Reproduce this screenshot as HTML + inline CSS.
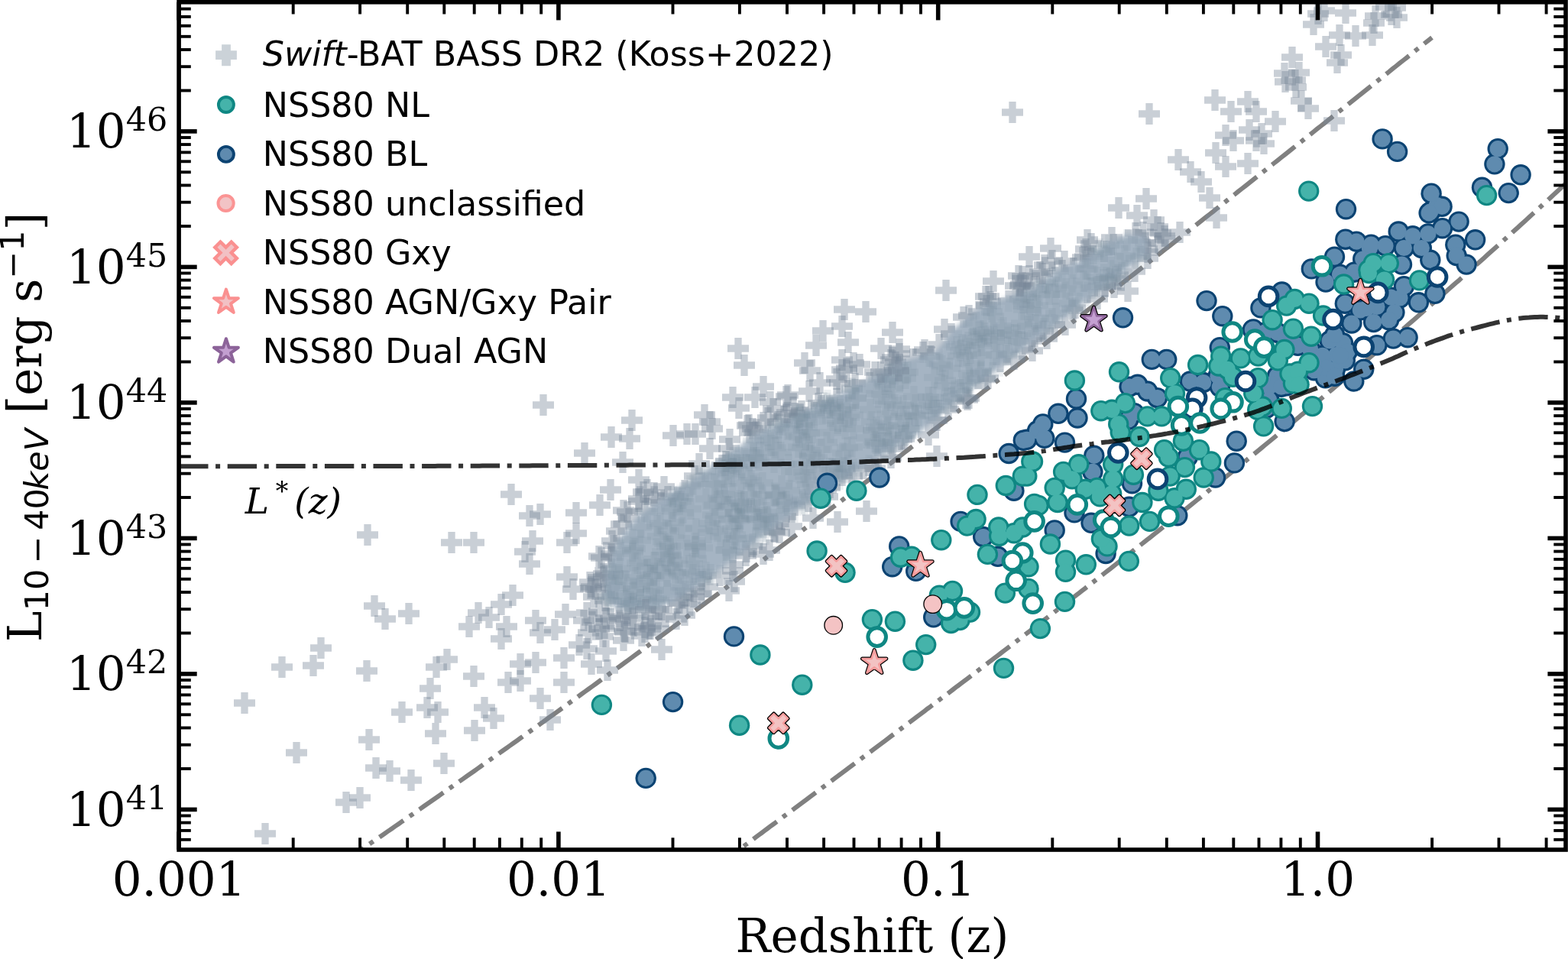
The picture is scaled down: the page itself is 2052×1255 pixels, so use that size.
<!DOCTYPE html>
<html><head><meta charset="utf-8"><style>
html,body{margin:0;padding:0;background:#fff;overflow:hidden}
svg{display:block}
</style></head><body>
<svg width="2052" height="1255" viewBox="0 0 2052 1255">
<rect width="2052" height="1255" fill="#fff"/>
<clipPath id="ax"><rect x="234.1" y="2.8" width="1814.9" height="1109.2"/></clipPath>
<defs><path id="P" d="M-4.67,-14v9.33h-9.33v9.33h9.33v9.33h9.33v-9.33h9.33v-9.33h-9.33v-9.33z" fill="#778899" fill-opacity="0.4"/><path id="Q" d="M-4.67,-14v9.33h-9.33v9.33h9.33v9.33h9.33v-9.33h9.33v-9.33h-9.33v-9.33z" fill="#778899" fill-opacity="0.13"/></defs>
<g clip-path="url(#ax)">
<path d="M470.0,1113.8 L474.7,1110.5 L479.4,1107.3 L484.1,1104.1 L488.8,1100.9 L493.5,1097.6 L498.2,1094.4 L502.9,1091.2 L507.6,1087.9 L512.3,1084.7 L517.0,1081.4 L521.7,1078.2 L526.3,1074.9 L531.0,1071.7 L535.7,1068.4 L540.4,1065.2 L545.1,1061.9 L549.8,1058.6 L554.5,1055.3 L559.2,1052.1 L563.9,1048.8 L568.6,1045.5 L573.3,1042.2 L578.0,1038.9 L582.7,1035.6 L587.4,1032.3 L592.1,1029.0 L596.8,1025.7 L601.5,1022.4 L606.2,1019.1 L610.9,1015.8 L615.6,1012.5 L620.3,1009.2 L625.0,1005.9 L629.7,1002.5 L634.3,999.2 L639.0,995.9 L643.7,992.6 L648.4,989.2 L653.1,985.9 L657.8,982.5 L662.5,979.2 L667.2,975.9 L671.9,972.5 L676.6,969.2 L681.3,965.8 L686.0,962.4 L690.7,959.1 L695.4,955.7 L700.1,952.3 L704.8,949.0 L709.5,945.6 L714.2,942.2 L718.9,938.8 L723.6,935.5 L728.3,932.1 L733.0,928.7 L737.7,925.3 L742.3,921.9 L747.0,918.5 L751.7,915.1 L756.4,911.7 L761.1,908.3 L765.8,904.9 L770.5,901.5 L775.2,898.1 L779.9,894.7 L784.6,891.3 L789.3,887.8 L794.0,884.4 L798.7,881.0 L803.4,877.6 L808.1,874.1 L812.8,870.7 L817.5,867.3 L822.2,863.8 L826.9,860.4 L831.6,856.9 L836.3,853.5 L841.0,850.0 L845.7,846.6 L850.3,843.1 L855.0,839.7 L859.7,836.2 L864.4,832.8 L869.1,829.3 L873.8,825.8 L878.5,822.4 L883.2,818.9 L887.9,815.4 L892.6,811.9 L897.3,808.5 L902.0,805.0 L906.7,801.5 L911.4,798.0 L916.1,794.5 L920.8,791.0 L925.5,787.5 L930.2,784.0 L934.9,780.6 L939.6,777.1 L944.3,773.5 L949.0,770.0 L953.7,766.5 L958.3,763.0 L963.0,759.5 L967.7,756.0 L972.4,752.5 L977.1,749.0 L981.8,745.5 L986.5,741.9 L991.2,738.4 L995.9,734.9 L1000.6,731.4 L1005.3,727.8 L1010.0,724.3 L1014.7,720.8 L1019.4,717.2 L1024.1,713.7 L1028.8,710.1 L1033.5,706.6 L1038.2,703.0 L1042.9,699.5 L1047.6,695.9 L1052.3,692.4 L1057.0,688.8 L1061.7,685.3 L1066.3,681.7 L1071.0,678.2 L1075.7,674.6 L1080.4,671.0 L1085.1,667.5 L1089.8,663.9 L1094.5,660.3 L1099.2,656.8 L1103.9,653.2 L1108.6,649.6 L1113.3,646.0 L1118.0,642.5 L1122.7,638.9 L1127.4,635.3 L1132.1,631.7 L1136.8,628.1 L1141.5,624.5 L1146.2,620.9 L1150.9,617.3 L1155.6,613.8 L1160.3,610.2 L1165.0,606.6 L1169.7,603.0 L1174.3,599.4 L1179.0,595.8 L1183.7,592.1 L1188.4,588.5 L1193.1,584.9 L1197.8,581.3 L1202.5,577.7 L1207.2,574.1 L1211.9,570.5 L1216.6,566.9 L1221.3,563.2 L1226.0,559.6 L1230.7,556.0 L1235.4,552.4 L1240.1,548.8 L1244.8,545.1 L1249.5,541.5 L1254.2,537.9 L1258.9,534.2 L1263.6,530.6 L1268.3,527.0 L1273.0,523.3 L1277.7,519.7 L1282.3,516.1 L1287.0,512.4 L1291.7,508.8 L1296.4,505.1 L1301.1,501.5 L1305.8,497.8 L1310.5,494.2 L1315.2,490.5 L1319.9,486.9 L1324.6,483.2 L1329.3,479.6 L1334.0,475.9 L1338.7,472.3 L1343.4,468.6 L1348.1,465.0 L1352.8,461.3 L1357.5,457.6 L1362.2,454.0 L1366.9,450.3 L1371.6,446.6 L1376.3,443.0 L1381.0,439.3 L1385.7,435.6 L1390.3,432.0 L1395.0,428.3 L1399.7,424.6 L1404.4,420.9 L1409.1,417.3 L1413.8,413.6 L1418.5,409.9 L1423.2,406.2 L1427.9,402.5 L1432.6,398.9 L1437.3,395.2 L1442.0,391.5 L1446.7,387.8 L1451.4,384.1 L1456.1,380.4 L1460.8,376.7 L1465.5,373.1 L1470.2,369.4 L1474.9,365.7 L1479.6,362.0 L1484.3,358.3 L1489.0,354.6 L1493.7,350.9 L1498.3,347.2 L1503.0,343.5 L1507.7,339.8 L1512.4,336.1 L1517.1,332.4 L1521.8,328.7 L1526.5,325.0 L1531.2,321.3 L1535.9,317.6 L1540.6,313.9 L1545.3,310.2 L1550.0,306.5 L1554.7,302.7 L1559.4,299.0 L1564.1,295.3 L1568.8,291.6 L1573.5,287.9 L1578.2,284.2 L1582.9,280.5 L1587.6,276.8 L1592.3,273.0 L1597.0,269.3 L1601.7,265.6 L1606.3,261.9 L1611.0,258.2 L1615.7,254.5 L1620.4,250.7 L1625.1,247.0 L1629.8,243.3 L1634.5,239.6 L1639.2,235.8 L1643.9,232.1 L1648.6,228.4 L1653.3,224.7 L1658.0,220.9 L1662.7,217.2 L1667.4,213.5 L1672.1,209.8 L1676.8,206.0 L1681.5,202.3 L1686.2,198.6 L1690.9,194.9 L1695.6,191.1 L1700.3,187.4 L1705.0,183.7 L1709.7,179.9 L1714.3,176.2 L1719.0,172.5 L1723.7,168.7 L1728.4,165.0 L1733.1,161.3 L1737.8,157.5 L1742.5,153.8 L1747.2,150.1 L1751.9,146.3 L1756.6,142.6 L1761.3,138.8 L1766.0,135.1 L1770.7,131.4 L1775.4,127.6 L1780.1,123.9 L1784.8,120.2 L1789.5,116.4 L1794.2,112.7 L1798.9,108.9 L1803.6,105.2 L1808.3,101.5 L1813.0,97.7 L1817.7,94.0 L1822.3,90.2 L1827.0,86.5 L1831.7,82.7 L1836.4,79.0 L1841.1,75.3 L1845.8,71.5 L1850.5,67.8 L1855.2,64.0 L1859.9,60.3 L1864.6,56.5 L1869.3,52.8 L1874.0,49.1" fill="none" stroke="#808080" stroke-width="6" stroke-dasharray="38.4 9.6 6 9.6" stroke-dashoffset="31.42"/>
<path d="M960.0,1117.3 L963.7,1114.6 L967.4,1111.9 L971.0,1109.1 L974.7,1106.4 L978.4,1103.7 L982.1,1100.9 L985.8,1098.2 L989.4,1095.4 L993.1,1092.7 L996.8,1090.0 L1000.5,1087.2 L1004.1,1084.5 L1007.8,1081.7 L1011.5,1079.0 L1015.2,1076.3 L1018.9,1073.5 L1022.5,1070.8 L1026.2,1068.0 L1029.9,1065.3 L1033.6,1062.5 L1037.3,1059.8 L1040.9,1057.1 L1044.6,1054.3 L1048.3,1051.6 L1052.0,1048.8 L1055.7,1046.1 L1059.3,1043.3 L1063.0,1040.6 L1066.7,1037.9 L1070.4,1035.1 L1074.0,1032.4 L1077.7,1029.6 L1081.4,1026.9 L1085.1,1024.1 L1088.8,1021.4 L1092.4,1018.6 L1096.1,1015.9 L1099.8,1013.1 L1103.5,1010.4 L1107.2,1007.6 L1110.8,1004.9 L1114.5,1002.1 L1118.2,999.4 L1121.9,996.6 L1125.6,993.9 L1129.2,991.1 L1132.9,988.4 L1136.6,985.6 L1140.3,982.8 L1143.9,980.1 L1147.6,977.3 L1151.3,974.6 L1155.0,971.8 L1158.7,969.1 L1162.3,966.3 L1166.0,963.5 L1169.7,960.8 L1173.4,958.0 L1177.1,955.2 L1180.7,952.5 L1184.4,949.7 L1188.1,946.9 L1191.8,944.2 L1195.5,941.4 L1199.1,938.6 L1202.8,935.9 L1206.5,933.1 L1210.2,930.3 L1213.8,927.5 L1217.5,924.8 L1221.2,922.0 L1224.9,919.2 L1228.6,916.4 L1232.2,913.7 L1235.9,910.9 L1239.6,908.1 L1243.3,905.3 L1247.0,902.5 L1250.6,899.7 L1254.3,897.0 L1258.0,894.2 L1261.7,891.4 L1265.4,888.6 L1269.0,885.8 L1272.7,883.0 L1276.4,880.2 L1280.1,877.4 L1283.7,874.6 L1287.4,871.8 L1291.1,869.0 L1294.8,866.2 L1298.5,863.4 L1302.1,860.6 L1305.8,857.8 L1309.5,855.0 L1313.2,852.2 L1316.9,849.4 L1320.5,846.6 L1324.2,843.8 L1327.9,840.9 L1331.6,838.1 L1335.3,835.3 L1338.9,832.5 L1342.6,829.7 L1346.3,826.9 L1350.0,824.0 L1353.6,821.2 L1357.3,818.4 L1361.0,815.6 L1364.7,812.7 L1368.4,809.9 L1372.0,807.1 L1375.7,804.2 L1379.4,801.4 L1383.1,798.5 L1386.8,795.7 L1390.4,792.9 L1394.1,790.0 L1397.8,787.2 L1401.5,784.3 L1405.2,781.5 L1408.8,778.6 L1412.5,775.8 L1416.2,772.9 L1419.9,770.1 L1423.5,767.2 L1427.2,764.3 L1430.9,761.5 L1434.6,758.6 L1438.3,755.7 L1441.9,752.9 L1445.6,750.0 L1449.3,747.1 L1453.0,744.3 L1456.7,741.4 L1460.3,738.5 L1464.0,735.6 L1467.7,732.7 L1471.4,729.9 L1475.1,727.0 L1478.7,724.1 L1482.4,721.2 L1486.1,718.3 L1489.8,715.4 L1493.4,712.5 L1497.1,709.6 L1500.8,706.7 L1504.5,703.8 L1508.2,700.9 L1511.8,698.0 L1515.5,695.1 L1519.2,692.1 L1522.9,689.2 L1526.6,686.3 L1530.2,683.4 L1533.9,680.5 L1537.6,677.5 L1541.3,674.6 L1544.9,671.7 L1548.6,668.7 L1552.3,665.8 L1556.0,662.9 L1559.7,659.9 L1563.3,657.0 L1567.0,654.0 L1570.7,651.1 L1574.4,648.1 L1578.1,645.2 L1581.7,642.2 L1585.4,639.3 L1589.1,636.3 L1592.8,633.4 L1596.5,630.4 L1600.1,627.4 L1603.8,624.4 L1607.5,621.5 L1611.2,618.5 L1614.8,615.5 L1618.5,612.5 L1622.2,609.5 L1625.9,606.6 L1629.6,603.6 L1633.2,600.6 L1636.9,597.6 L1640.6,594.6 L1644.3,591.6 L1648.0,588.6 L1651.6,585.6 L1655.3,582.5 L1659.0,579.5 L1662.7,576.5 L1666.4,573.5 L1670.0,570.5 L1673.7,567.4 L1677.4,564.4 L1681.1,561.4 L1684.7,558.3 L1688.4,555.3 L1692.1,552.3 L1695.8,549.2 L1699.5,546.2 L1703.1,543.1 L1706.8,540.1 L1710.5,537.0 L1714.2,534.0 L1717.9,530.9 L1721.5,527.8 L1725.2,524.8 L1728.9,521.7 L1732.6,518.6 L1736.3,515.5 L1739.9,512.4 L1743.6,509.4 L1747.3,506.3 L1751.0,503.2 L1754.6,500.1 L1758.3,497.0 L1762.0,493.9 L1765.7,490.8 L1769.4,487.7 L1773.0,484.6 L1776.7,481.4 L1780.4,478.3 L1784.1,475.2 L1787.8,472.1 L1791.4,468.9 L1795.1,465.8 L1798.8,462.7 L1802.5,459.5 L1806.2,456.4 L1809.8,453.2 L1813.5,450.1 L1817.2,446.9 L1820.9,443.8 L1824.5,440.6 L1828.2,437.4 L1831.9,434.3 L1835.6,431.1 L1839.3,427.9 L1842.9,424.7 L1846.6,421.6 L1850.3,418.4 L1854.0,415.2 L1857.7,412.0 L1861.3,408.8 L1865.0,405.6 L1868.7,402.4 L1872.4,399.2 L1876.1,396.0 L1879.7,392.7 L1883.4,389.5 L1887.1,386.3 L1890.8,383.1 L1894.4,379.8 L1898.1,376.6 L1901.8,373.3 L1905.5,370.1 L1909.2,366.9 L1912.8,363.6 L1916.5,360.3 L1920.2,357.1 L1923.9,353.8 L1927.6,350.5 L1931.2,347.3 L1934.9,344.0 L1938.6,340.7 L1942.3,337.4 L1946.0,334.1 L1949.6,330.8 L1953.3,327.5 L1957.0,324.2 L1960.7,320.9 L1964.3,317.6 L1968.0,314.3 L1971.7,311.0 L1975.4,307.7 L1979.1,304.3 L1982.7,301.0 L1986.4,297.7 L1990.1,294.3 L1993.8,291.0 L1997.5,287.6 L2001.1,284.3 L2004.8,280.9 L2008.5,277.6 L2012.2,274.2 L2015.9,270.8 L2019.5,267.4 L2023.2,264.1 L2026.9,260.7 L2030.6,257.3 L2034.2,253.9 L2037.9,250.5 L2041.6,247.1 L2045.3,243.7 L2049.0,240.3 L2052.6,236.9 L2056.3,233.4 L2060.0,230.0" fill="none" stroke="#808080" stroke-width="6" stroke-dasharray="38.4 9.6 6 9.6" stroke-dashoffset="31.43"/>
<g><use href="#P" x="1083" y="650"/>
<use href="#P" x="1036" y="689"/>
<use href="#P" x="1168" y="468"/>
<use href="#P" x="1264" y="521"/>
<use href="#P" x="810" y="807"/>
<use href="#P" x="980" y="556"/>
<use href="#P" x="871" y="807"/>
<use href="#P" x="1038" y="533"/>
<use href="#P" x="829" y="819"/>
<use href="#P" x="1236" y="431"/>
<use href="#P" x="852" y="819"/>
<use href="#P" x="807" y="695"/>
<use href="#P" x="1436" y="391"/>
<use href="#P" x="1020" y="697"/>
<use href="#P" x="793" y="753"/>
<use href="#P" x="847" y="641"/>
<use href="#P" x="978" y="557"/>
<use href="#P" x="887" y="789"/>
<use href="#P" x="1502" y="338"/>
<use href="#P" x="784" y="728"/>
<use href="#P" x="1012" y="535"/>
<use href="#P" x="799" y="810"/>
<use href="#P" x="1026" y="545"/>
<use href="#P" x="851" y="823"/>
<use href="#P" x="774" y="768"/>
<use href="#P" x="1340" y="374"/>
<use href="#P" x="1291" y="400"/>
<use href="#P" x="885" y="810"/>
<use href="#P" x="1377" y="341"/>
<use href="#P" x="896" y="805"/>
<use href="#P" x="842" y="644"/>
<use href="#P" x="1519" y="305"/>
<use href="#P" x="1486" y="305"/>
<use href="#P" x="1102" y="484"/>
<use href="#P" x="1515" y="297"/>
<use href="#P" x="1336" y="372"/>
<use href="#P" x="1393" y="342"/>
<use href="#P" x="1166" y="599"/>
<use href="#P" x="908" y="774"/>
<use href="#P" x="992" y="566"/>
<use href="#P" x="772" y="762"/>
<use href="#P" x="1064" y="678"/>
<use href="#P" x="816" y="668"/>
<use href="#P" x="1446" y="375"/>
<use href="#P" x="1117" y="475"/>
<use href="#P" x="961" y="761"/>
<use href="#P" x="1294" y="388"/>
<use href="#P" x="836" y="656"/>
<use href="#P" x="1463" y="365"/>
<use href="#P" x="1525" y="313"/>
<use href="#P" x="999" y="553"/>
<use href="#P" x="1095" y="496"/>
<use href="#P" x="821" y="670"/>
<use href="#P" x="836" y="653"/>
<use href="#P" x="1099" y="501"/>
<use href="#P" x="1031" y="517"/>
<use href="#P" x="816" y="838"/>
<use href="#P" x="1125" y="477"/>
<use href="#P" x="1005" y="547"/>
<use href="#P" x="783" y="756"/>
<use href="#P" x="862" y="823"/>
<use href="#P" x="1296" y="395"/>
<use href="#P" x="1329" y="374"/>
<use href="#P" x="1367" y="347"/>
<use href="#P" x="1347" y="361"/>
<use href="#P" x="800" y="725"/>
<use href="#P" x="1049" y="538"/>
<use href="#P" x="844" y="821"/>
<use href="#P" x="1370" y="443"/>
<use href="#P" x="1338" y="362"/>
<use href="#P" x="784" y="800"/>
<use href="#P" x="1130" y="613"/>
<use href="#P" x="1029" y="519"/>
<use href="#P" x="1496" y="304"/>
<use href="#P" x="811" y="812"/>
<use href="#P" x="1333" y="361"/>
<use href="#P" x="790" y="751"/>
<use href="#P" x="908" y="781"/>
<use href="#P" x="853" y="806"/>
<use href="#P" x="903" y="792"/>
<use href="#P" x="1516" y="318"/>
<use href="#P" x="1210" y="458"/>
<use href="#P" x="773" y="770"/>
<use href="#P" x="1420" y="336"/>
<use href="#P" x="1177" y="457"/>
<use href="#P" x="1166" y="471"/>
<use href="#P" x="1226" y="550"/>
<use href="#P" x="959" y="739"/>
<use href="#P" x="1293" y="495"/>
<use href="#P" x="1501" y="326"/>
<use href="#P" x="1007" y="720"/>
<use href="#P" x="818" y="827"/>
<use href="#P" x="869" y="637"/>
<use href="#P" x="777" y="781"/>
<use href="#P" x="1351" y="459"/>
<use href="#P" x="1145" y="487"/>
<use href="#P" x="892" y="782"/>
<use href="#P" x="1421" y="326"/>
<use href="#P" x="1524" y="309"/>
<use href="#P" x="801" y="708"/>
<use href="#P" x="1177" y="463"/>
<use href="#P" x="1290" y="388"/>
<use href="#P" x="791" y="822"/>
<use href="#P" x="1013" y="695"/>
<use href="#P" x="1145" y="613"/>
<use href="#P" x="918" y="777"/>
<use href="#P" x="1153" y="456"/>
<use href="#P" x="999" y="725"/>
<use href="#P" x="844" y="827"/>
<use href="#P" x="840" y="832"/></g>
<g><use href="#P" x="800" y="769"/>
<use href="#P" x="790" y="755"/>
<use href="#P" x="800" y="729"/>
<use href="#P" x="803" y="714"/>
<use href="#P" x="813" y="686"/>
<use href="#P" x="823" y="679"/>
<use href="#P" x="844" y="669"/>
<use href="#P" x="857" y="656"/>
<use href="#P" x="865" y="658"/>
<use href="#P" x="874" y="650"/>
<use href="#P" x="896" y="642"/>
<use href="#P" x="909" y="623"/>
<use href="#P" x="915" y="607"/>
<use href="#P" x="945" y="609"/>
<use href="#P" x="950" y="604"/>
<use href="#P" x="954" y="587"/>
<use href="#P" x="981" y="566"/>
<use href="#P" x="985" y="561"/>
<use href="#P" x="1018" y="552"/>
<use href="#P" x="1040" y="541"/>
<use href="#P" x="1054" y="546"/>
<use href="#P" x="1075" y="531"/>
<use href="#P" x="1071" y="528"/>
<use href="#P" x="1095" y="522"/>
<use href="#P" x="1119" y="510"/>
<use href="#P" x="1119" y="502"/>
<use href="#P" x="1138" y="501"/>
<use href="#P" x="1161" y="494"/>
<use href="#P" x="1172" y="474"/>
<use href="#P" x="1171" y="481"/>
<use href="#P" x="1195" y="470"/>
<use href="#P" x="1208" y="461"/>
<use href="#P" x="1218" y="466"/>
<use href="#P" x="1229" y="451"/>
<use href="#P" x="1245" y="437"/>
<use href="#P" x="1261" y="415"/>
<use href="#P" x="1268" y="413"/>
<use href="#P" x="1281" y="408"/>
<use href="#P" x="1320" y="394"/>
<use href="#P" x="1335" y="392"/>
<use href="#P" x="1343" y="384"/>
<use href="#P" x="1353" y="375"/>
<use href="#P" x="1361" y="356"/>
<use href="#P" x="1390" y="354"/>
<use href="#P" x="1405" y="351"/>
<use href="#P" x="1417" y="337"/>
<use href="#P" x="1427" y="338"/>
<use href="#P" x="1428" y="319"/>
<use href="#P" x="1455" y="311"/>
<use href="#P" x="1457" y="320"/>
<use href="#P" x="1490" y="314"/>
<use href="#P" x="1499" y="318"/>
<use href="#P" x="1502" y="330"/>
<use href="#P" x="1485" y="355"/>
<use href="#P" x="1463" y="360"/>
<use href="#P" x="1458" y="376"/>
<use href="#P" x="1446" y="374"/>
<use href="#P" x="1423" y="383"/>
<use href="#P" x="1407" y="403"/>
<use href="#P" x="1404" y="406"/>
<use href="#P" x="1394" y="425"/>
<use href="#P" x="1380" y="425"/>
<use href="#P" x="1365" y="433"/>
<use href="#P" x="1354" y="440"/>
<use href="#P" x="1350" y="446"/>
<use href="#P" x="1338" y="457"/>
<use href="#P" x="1327" y="470"/>
<use href="#P" x="1309" y="473"/>
<use href="#P" x="1289" y="496"/>
<use href="#P" x="1280" y="495"/>
<use href="#P" x="1266" y="523"/>
<use href="#P" x="1268" y="521"/>
<use href="#P" x="1248" y="525"/>
<use href="#P" x="1241" y="536"/>
<use href="#P" x="1224" y="550"/>
<use href="#P" x="1215" y="569"/>
<use href="#P" x="1183" y="574"/>
<use href="#P" x="1180" y="575"/>
<use href="#P" x="1168" y="587"/>
<use href="#P" x="1149" y="601"/>
<use href="#P" x="1137" y="609"/>
<use href="#P" x="1115" y="623"/>
<use href="#P" x="1110" y="609"/>
<use href="#P" x="1102" y="622"/>
<use href="#P" x="1086" y="638"/>
<use href="#P" x="1081" y="641"/>
<use href="#P" x="1058" y="656"/>
<use href="#P" x="1040" y="661"/>
<use href="#P" x="1028" y="676"/>
<use href="#P" x="1020" y="679"/>
<use href="#P" x="1014" y="696"/>
<use href="#P" x="984" y="715"/>
<use href="#P" x="976" y="727"/>
<use href="#P" x="977" y="722"/>
<use href="#P" x="959" y="747"/>
<use href="#P" x="942" y="753"/>
<use href="#P" x="918" y="754"/>
<use href="#P" x="926" y="768"/>
<use href="#P" x="894" y="770"/>
<use href="#P" x="889" y="789"/>
<use href="#P" x="866" y="798"/>
<use href="#P" x="858" y="797"/>
<use href="#P" x="822" y="790"/>
<use href="#P" x="821" y="805"/>
<use href="#P" x="792" y="786"/></g>
<filter id="blur" x="-10%" y="-10%" width="120%" height="120%"><feGaussianBlur stdDeviation="3"/></filter>
<polygon points="790,780 796,740 810,705 835,675 870,650 905,628 945,600 990,568 1040,545 1085,522 1130,500 1183,472 1225,460 1248,430 1280,405 1300,396 1351,378 1379,356 1421,338 1449,318 1476,307 1500,310 1500,333 1450,371 1400,410 1350,448 1300,487 1250,525 1202,568 1160,592 1120,616 1082,640 1040,670 1000,700 960,732 920,762 880,788 840,800 805,795" fill="#9bacbc" fill-opacity="0.9" filter="url(#blur)"/>
<g><use href="#Q" x="1146" y="580"/>
<use href="#Q" x="1060" y="596"/>
<use href="#Q" x="837" y="767"/>
<use href="#Q" x="1436" y="363"/>
<use href="#Q" x="942" y="655"/>
<use href="#Q" x="1216" y="466"/>
<use href="#Q" x="1265" y="465"/>
<use href="#Q" x="935" y="633"/>
<use href="#Q" x="1054" y="575"/>
<use href="#Q" x="1385" y="355"/>
<use href="#Q" x="986" y="599"/>
<use href="#Q" x="1257" y="510"/>
<use href="#Q" x="1301" y="447"/>
<use href="#Q" x="918" y="623"/>
<use href="#Q" x="1161" y="542"/>
<use href="#Q" x="856" y="736"/>
<use href="#Q" x="1284" y="465"/>
<use href="#Q" x="828" y="724"/>
<use href="#Q" x="1009" y="686"/>
<use href="#Q" x="957" y="614"/>
<use href="#Q" x="1475" y="314"/>
<use href="#Q" x="1009" y="575"/>
<use href="#Q" x="1340" y="396"/>
<use href="#Q" x="1355" y="425"/>
<use href="#Q" x="1161" y="557"/>
<use href="#Q" x="1269" y="476"/>
<use href="#Q" x="986" y="593"/>
<use href="#Q" x="1216" y="528"/>
<use href="#Q" x="829" y="771"/>
<use href="#Q" x="1174" y="479"/>
<use href="#Q" x="1222" y="532"/>
<use href="#Q" x="881" y="650"/>
<use href="#Q" x="949" y="609"/>
<use href="#Q" x="1198" y="530"/>
<use href="#Q" x="910" y="716"/>
<use href="#Q" x="1345" y="427"/>
<use href="#Q" x="1168" y="496"/>
<use href="#Q" x="985" y="712"/>
<use href="#Q" x="910" y="715"/>
<use href="#Q" x="930" y="752"/>
<use href="#Q" x="1103" y="593"/>
<use href="#Q" x="907" y="634"/>
<use href="#Q" x="990" y="599"/>
<use href="#Q" x="1047" y="544"/>
<use href="#Q" x="1163" y="580"/>
<use href="#Q" x="886" y="657"/>
<use href="#Q" x="1223" y="494"/>
<use href="#Q" x="987" y="668"/>
<use href="#Q" x="812" y="720"/>
<use href="#Q" x="1268" y="489"/>
<use href="#Q" x="1046" y="542"/>
<use href="#Q" x="1087" y="534"/>
<use href="#Q" x="919" y="717"/>
<use href="#Q" x="1015" y="649"/>
<use href="#Q" x="1059" y="566"/>
<use href="#Q" x="936" y="679"/>
<use href="#Q" x="1445" y="329"/>
<use href="#Q" x="1062" y="593"/>
<use href="#Q" x="1267" y="448"/>
<use href="#Q" x="1468" y="357"/>
<use href="#Q" x="818" y="760"/>
<use href="#Q" x="1371" y="371"/>
<use href="#Q" x="1330" y="391"/>
<use href="#Q" x="924" y="758"/>
<use href="#Q" x="855" y="783"/>
<use href="#Q" x="1106" y="561"/>
<use href="#Q" x="864" y="747"/>
<use href="#Q" x="962" y="700"/>
<use href="#Q" x="1202" y="544"/>
<use href="#Q" x="1089" y="530"/>
<use href="#Q" x="861" y="744"/>
<use href="#Q" x="831" y="756"/>
<use href="#Q" x="1186" y="545"/>
<use href="#Q" x="1023" y="636"/>
<use href="#Q" x="1189" y="561"/>
<use href="#Q" x="1029" y="656"/>
<use href="#Q" x="1412" y="397"/>
<use href="#Q" x="1022" y="658"/>
<use href="#Q" x="1024" y="556"/>
<use href="#Q" x="1429" y="377"/>
<use href="#Q" x="1044" y="547"/>
<use href="#Q" x="856" y="753"/>
<use href="#Q" x="1300" y="414"/>
<use href="#Q" x="1002" y="699"/>
<use href="#Q" x="1381" y="385"/>
<use href="#Q" x="1454" y="350"/>
<use href="#Q" x="1014" y="648"/>
<use href="#Q" x="1162" y="499"/>
<use href="#Q" x="827" y="790"/>
<use href="#Q" x="796" y="785"/>
<use href="#Q" x="1269" y="498"/>
<use href="#Q" x="1466" y="345"/>
<use href="#Q" x="1439" y="326"/>
<use href="#Q" x="991" y="667"/>
<use href="#Q" x="1154" y="580"/>
<use href="#Q" x="959" y="692"/>
<use href="#Q" x="957" y="606"/>
<use href="#Q" x="1043" y="554"/>
<use href="#Q" x="1117" y="561"/>
<use href="#Q" x="962" y="671"/>
<use href="#Q" x="1100" y="541"/>
<use href="#Q" x="1134" y="573"/>
<use href="#Q" x="1040" y="670"/>
<use href="#Q" x="1421" y="352"/>
<use href="#Q" x="1249" y="512"/>
<use href="#Q" x="1444" y="366"/>
<use href="#Q" x="1460" y="362"/>
<use href="#Q" x="983" y="647"/>
<use href="#Q" x="1056" y="559"/>
<use href="#Q" x="967" y="599"/>
<use href="#Q" x="860" y="688"/>
<use href="#Q" x="969" y="679"/>
<use href="#Q" x="1051" y="607"/>
<use href="#Q" x="1148" y="583"/>
<use href="#Q" x="846" y="761"/>
<use href="#Q" x="906" y="738"/>
<use href="#Q" x="805" y="766"/>
<use href="#Q" x="859" y="784"/>
<use href="#Q" x="970" y="665"/>
<use href="#Q" x="1052" y="618"/>
<use href="#Q" x="983" y="629"/>
<use href="#Q" x="1493" y="336"/>
<use href="#Q" x="1237" y="498"/>
<use href="#Q" x="1030" y="661"/>
<use href="#Q" x="1431" y="332"/>
<use href="#Q" x="1453" y="364"/>
<use href="#Q" x="1403" y="373"/>
<use href="#Q" x="1221" y="520"/>
<use href="#Q" x="1019" y="560"/>
<use href="#Q" x="1171" y="530"/>
<use href="#Q" x="1448" y="363"/>
<use href="#Q" x="1289" y="436"/>
<use href="#Q" x="1254" y="466"/>
<use href="#Q" x="846" y="783"/>
<use href="#Q" x="868" y="709"/>
<use href="#Q" x="1066" y="543"/>
<use href="#Q" x="1100" y="536"/>
<use href="#Q" x="1096" y="554"/>
<use href="#Q" x="1154" y="516"/>
<use href="#Q" x="967" y="678"/>
<use href="#Q" x="1143" y="563"/>
<use href="#Q" x="1078" y="527"/>
<use href="#Q" x="1400" y="397"/>
<use href="#Q" x="1109" y="586"/>
<use href="#Q" x="928" y="685"/>
<use href="#Q" x="1156" y="489"/>
<use href="#Q" x="800" y="787"/>
<use href="#Q" x="1150" y="496"/>
<use href="#Q" x="850" y="764"/>
<use href="#Q" x="1356" y="379"/>
<use href="#Q" x="821" y="794"/>
<use href="#Q" x="1274" y="424"/>
<use href="#Q" x="840" y="795"/>
<use href="#Q" x="1285" y="452"/>
<use href="#Q" x="891" y="656"/>
<use href="#Q" x="829" y="775"/>
<use href="#Q" x="1293" y="440"/>
<use href="#Q" x="1452" y="365"/>
<use href="#Q" x="970" y="632"/>
<use href="#Q" x="1033" y="642"/>
<use href="#Q" x="919" y="761"/>
<use href="#Q" x="834" y="737"/>
<use href="#Q" x="1176" y="557"/>
<use href="#Q" x="873" y="773"/>
<use href="#Q" x="1087" y="566"/>
<use href="#Q" x="953" y="620"/>
<use href="#Q" x="1320" y="463"/>
<use href="#Q" x="1445" y="329"/>
<use href="#Q" x="899" y="714"/>
<use href="#Q" x="891" y="768"/>
<use href="#Q" x="831" y="718"/>
<use href="#Q" x="1003" y="671"/>
<use href="#Q" x="1382" y="376"/>
<use href="#Q" x="1310" y="432"/>
<use href="#Q" x="847" y="741"/>
<use href="#Q" x="1168" y="509"/>
<use href="#Q" x="1257" y="459"/>
<use href="#Q" x="939" y="695"/>
<use href="#Q" x="1082" y="528"/>
<use href="#Q" x="1348" y="405"/>
<use href="#Q" x="933" y="674"/>
<use href="#Q" x="1158" y="503"/>
<use href="#Q" x="1287" y="433"/>
<use href="#Q" x="1022" y="592"/>
<use href="#Q" x="1159" y="529"/>
<use href="#Q" x="1333" y="447"/>
<use href="#Q" x="902" y="749"/>
<use href="#Q" x="1016" y="647"/>
<use href="#Q" x="1284" y="486"/>
<use href="#Q" x="1099" y="627"/>
<use href="#Q" x="924" y="749"/>
<use href="#Q" x="1317" y="465"/>
<use href="#Q" x="1115" y="509"/>
<use href="#Q" x="1395" y="378"/>
<use href="#Q" x="1451" y="321"/>
<use href="#Q" x="1053" y="555"/>
<use href="#Q" x="1239" y="528"/>
<use href="#Q" x="1437" y="375"/>
<use href="#Q" x="1281" y="435"/>
<use href="#Q" x="881" y="704"/>
<use href="#Q" x="828" y="721"/>
<use href="#Q" x="1313" y="429"/>
<use href="#Q" x="1069" y="599"/>
<use href="#Q" x="999" y="680"/>
<use href="#Q" x="975" y="666"/>
<use href="#Q" x="1196" y="519"/>
<use href="#Q" x="811" y="744"/>
<use href="#Q" x="959" y="723"/>
<use href="#Q" x="1116" y="543"/>
<use href="#Q" x="1099" y="617"/>
<use href="#Q" x="1069" y="615"/>
<use href="#Q" x="1120" y="521"/>
<use href="#Q" x="861" y="702"/>
<use href="#Q" x="1110" y="533"/>
<use href="#Q" x="888" y="750"/>
<use href="#Q" x="1215" y="520"/>
<use href="#Q" x="1368" y="369"/>
<use href="#Q" x="1178" y="498"/>
<use href="#Q" x="923" y="617"/>
<use href="#Q" x="993" y="602"/>
<use href="#Q" x="1182" y="531"/>
<use href="#Q" x="1115" y="508"/>
<use href="#Q" x="1009" y="583"/>
<use href="#Q" x="1004" y="676"/>
<use href="#Q" x="1075" y="588"/>
<use href="#Q" x="960" y="613"/>
<use href="#Q" x="970" y="659"/>
<use href="#Q" x="1059" y="567"/>
<use href="#Q" x="1086" y="613"/>
<use href="#Q" x="1359" y="416"/>
<use href="#Q" x="1259" y="451"/>
<use href="#Q" x="1487" y="338"/>
<use href="#Q" x="1055" y="628"/>
<use href="#Q" x="999" y="690"/>
<use href="#Q" x="943" y="702"/>
<use href="#Q" x="935" y="661"/>
<use href="#Q" x="948" y="633"/>
<use href="#Q" x="1139" y="536"/>
<use href="#Q" x="862" y="786"/>
<use href="#Q" x="1343" y="389"/>
<use href="#Q" x="1185" y="569"/>
<use href="#Q" x="989" y="704"/>
<use href="#Q" x="992" y="680"/>
<use href="#Q" x="1147" y="515"/>
<use href="#Q" x="879" y="665"/>
<use href="#Q" x="873" y="715"/>
<use href="#Q" x="816" y="786"/>
<use href="#Q" x="961" y="705"/>
<use href="#Q" x="1219" y="537"/>
<use href="#Q" x="893" y="652"/>
<use href="#Q" x="903" y="636"/>
<use href="#Q" x="881" y="684"/>
<use href="#Q" x="880" y="669"/>
<use href="#Q" x="855" y="772"/>
<use href="#Q" x="1098" y="604"/>
<use href="#Q" x="1103" y="551"/>
<use href="#Q" x="1145" y="578"/>
<use href="#Q" x="1005" y="678"/>
<use href="#Q" x="1050" y="654"/>
<use href="#Q" x="1190" y="561"/>
<use href="#Q" x="838" y="743"/>
<use href="#Q" x="1053" y="659"/>
<use href="#Q" x="1284" y="441"/>
<use href="#Q" x="1090" y="550"/>
<use href="#Q" x="1245" y="521"/>
<use href="#Q" x="1197" y="542"/>
<use href="#Q" x="1050" y="586"/>
<use href="#Q" x="802" y="751"/>
<use href="#Q" x="795" y="779"/>
<use href="#Q" x="851" y="753"/>
<use href="#Q" x="878" y="726"/>
<use href="#Q" x="1076" y="542"/>
<use href="#Q" x="873" y="754"/>
<use href="#Q" x="1252" y="454"/>
<use href="#Q" x="1188" y="487"/>
<use href="#Q" x="879" y="738"/>
<use href="#Q" x="1328" y="438"/>
<use href="#Q" x="1185" y="570"/>
<use href="#Q" x="966" y="658"/>
<use href="#Q" x="1083" y="524"/>
<use href="#Q" x="807" y="761"/>
<use href="#Q" x="875" y="727"/>
<use href="#Q" x="1095" y="628"/>
<use href="#Q" x="959" y="599"/>
<use href="#Q" x="937" y="634"/>
<use href="#Q" x="1163" y="559"/>
<use href="#Q" x="820" y="780"/>
<use href="#Q" x="1060" y="647"/>
<use href="#Q" x="980" y="624"/>
<use href="#Q" x="950" y="615"/>
<use href="#Q" x="1340" y="405"/>
<use href="#Q" x="1366" y="430"/>
<use href="#Q" x="894" y="671"/>
<use href="#Q" x="877" y="715"/>
<use href="#Q" x="950" y="604"/>
<use href="#Q" x="867" y="722"/>
<use href="#Q" x="1298" y="408"/>
<use href="#Q" x="975" y="600"/>
<use href="#Q" x="839" y="800"/>
<use href="#Q" x="1304" y="464"/>
<use href="#Q" x="1086" y="534"/>
<use href="#Q" x="904" y="666"/>
<use href="#Q" x="1166" y="524"/>
<use href="#Q" x="1236" y="505"/>
<use href="#Q" x="959" y="646"/>
<use href="#Q" x="1331" y="439"/>
<use href="#Q" x="810" y="752"/>
<use href="#Q" x="1185" y="488"/>
<use href="#Q" x="907" y="752"/>
<use href="#Q" x="967" y="681"/>
<use href="#Q" x="986" y="577"/>
<use href="#Q" x="1046" y="572"/>
<use href="#Q" x="997" y="648"/>
<use href="#Q" x="1283" y="488"/>
<use href="#Q" x="1472" y="335"/>
<use href="#Q" x="1114" y="619"/>
<use href="#Q" x="847" y="670"/>
<use href="#Q" x="1020" y="555"/>
<use href="#Q" x="1117" y="614"/>
<use href="#Q" x="1418" y="368"/>
<use href="#Q" x="1094" y="613"/>
<use href="#Q" x="1185" y="495"/>
<use href="#Q" x="1296" y="400"/>
<use href="#Q" x="1230" y="477"/>
<use href="#Q" x="886" y="733"/>
<use href="#Q" x="1120" y="521"/>
<use href="#Q" x="1270" y="462"/>
<use href="#Q" x="1403" y="404"/>
<use href="#Q" x="825" y="787"/>
<use href="#Q" x="1042" y="570"/>
<use href="#Q" x="1423" y="352"/>
<use href="#Q" x="1243" y="482"/>
<use href="#Q" x="1159" y="588"/>
<use href="#Q" x="974" y="657"/>
<use href="#Q" x="950" y="720"/>
<use href="#Q" x="857" y="736"/>
<use href="#Q" x="1382" y="410"/>
<use href="#Q" x="986" y="636"/>
<use href="#Q" x="897" y="774"/>
<use href="#Q" x="884" y="749"/>
<use href="#Q" x="1054" y="623"/>
<use href="#Q" x="1064" y="605"/>
<use href="#Q" x="1270" y="505"/>
<use href="#Q" x="990" y="679"/>
<use href="#Q" x="1179" y="545"/>
<use href="#Q" x="1082" y="579"/>
<use href="#Q" x="965" y="679"/>
<use href="#Q" x="1153" y="564"/>
<use href="#Q" x="839" y="690"/>
<use href="#Q" x="1309" y="445"/>
<use href="#Q" x="838" y="707"/>
<use href="#Q" x="1115" y="585"/>
<use href="#Q" x="1015" y="586"/>
<use href="#Q" x="1264" y="501"/>
<use href="#Q" x="911" y="692"/>
<use href="#Q" x="1233" y="479"/>
<use href="#Q" x="888" y="650"/>
<use href="#Q" x="948" y="647"/>
<use href="#Q" x="1036" y="617"/>
<use href="#Q" x="801" y="745"/>
<use href="#Q" x="911" y="731"/>
<use href="#Q" x="1273" y="443"/>
<use href="#Q" x="994" y="592"/>
<use href="#Q" x="1228" y="537"/>
<use href="#Q" x="990" y="656"/>
<use href="#Q" x="1198" y="544"/>
<use href="#Q" x="1057" y="634"/>
<use href="#Q" x="892" y="691"/>
<use href="#Q" x="1031" y="562"/>
<use href="#Q" x="878" y="728"/>
<use href="#Q" x="828" y="706"/>
<use href="#Q" x="924" y="653"/>
<use href="#Q" x="1301" y="436"/>
<use href="#Q" x="964" y="705"/>
<use href="#Q" x="909" y="711"/>
<use href="#Q" x="954" y="680"/>
<use href="#Q" x="1045" y="585"/>
<use href="#Q" x="1348" y="398"/>
<use href="#Q" x="864" y="685"/>
<use href="#Q" x="1337" y="423"/>
<use href="#Q" x="1099" y="531"/>
<use href="#Q" x="1299" y="488"/>
<use href="#Q" x="797" y="780"/>
<use href="#Q" x="1032" y="608"/>
<use href="#Q" x="1319" y="436"/>
<use href="#Q" x="1065" y="540"/>
<use href="#Q" x="1360" y="386"/>
<use href="#Q" x="998" y="632"/>
<use href="#Q" x="1111" y="546"/>
<use href="#Q" x="971" y="612"/>
<use href="#Q" x="964" y="608"/>
<use href="#Q" x="838" y="785"/>
<use href="#Q" x="1141" y="552"/>
<use href="#Q" x="927" y="697"/>
<use href="#Q" x="1013" y="605"/>
<use href="#Q" x="1373" y="385"/>
<use href="#Q" x="1105" y="612"/>
<use href="#Q" x="875" y="695"/>
<use href="#Q" x="951" y="720"/>
<use href="#Q" x="952" y="663"/>
<use href="#Q" x="1147" y="559"/>
<use href="#Q" x="1169" y="578"/>
<use href="#Q" x="1278" y="447"/>
<use href="#Q" x="954" y="663"/>
<use href="#Q" x="1089" y="614"/>
<use href="#Q" x="1046" y="546"/>
<use href="#Q" x="1258" y="515"/>
<use href="#Q" x="1004" y="570"/>
<use href="#Q" x="880" y="743"/>
<use href="#Q" x="1358" y="400"/>
<use href="#Q" x="1165" y="570"/>
<use href="#Q" x="1377" y="417"/>
<use href="#Q" x="940" y="652"/></g>
<g><use href="#P" x="1725" y="18"/>
<use href="#P" x="1719" y="32"/>
<use href="#P" x="1733" y="14"/>
<use href="#P" x="1761" y="17"/>
<use href="#P" x="1800" y="21"/>
<use href="#P" x="1821" y="19"/>
<use href="#P" x="1826" y="10"/>
<use href="#P" x="1814" y="9"/>
<use href="#P" x="1828" y="23"/>
<use href="#P" x="1798" y="30"/>
<use href="#P" x="1753" y="46"/>
<use href="#P" x="1774" y="47"/>
<use href="#P" x="1796" y="46"/>
<use href="#P" x="1735" y="61"/>
<use href="#P" x="1755" y="72"/>
<use href="#P" x="1750" y="82"/>
<use href="#P" x="1691" y="75"/>
<use href="#P" x="1681" y="96"/>
<use href="#P" x="1700" y="95"/>
<use href="#P" x="1695" y="105"/>
<use href="#P" x="1682" y="107"/>
<use href="#P" x="1696" y="114"/>
<use href="#P" x="1703" y="132"/>
<use href="#P" x="1712" y="142"/>
<use href="#P" x="1746" y="158"/>
<use href="#P" x="1590" y="131"/>
<use href="#P" x="1611" y="146"/>
<use href="#P" x="1633" y="133"/>
<use href="#P" x="1644" y="146"/>
<use href="#P" x="1669" y="159"/>
<use href="#P" x="1635" y="170"/>
<use href="#P" x="1651" y="175"/>
<use href="#P" x="1654" y="188"/>
<use href="#P" x="1644" y="184"/>
<use href="#P" x="1604" y="177"/>
<use href="#P" x="1614" y="184"/>
<use href="#P" x="1591" y="200"/>
<use href="#P" x="1633" y="214"/>
<use href="#P" x="1604" y="218"/>
<use href="#P" x="1504" y="149"/>
<use href="#P" x="1542" y="209"/>
<use href="#P" x="320" y="920"/>
<use href="#P" x="369" y="873"/>
<use href="#P" x="410" y="871"/>
<use href="#P" x="420" y="848"/>
<use href="#P" x="388" y="985"/>
<use href="#P" x="347" y="1091"/>
<use href="#P" x="481" y="700"/>
<use href="#P" x="480" y="878"/>
<use href="#P" x="490" y="793"/>
<use href="#P" x="504" y="810"/>
<use href="#P" x="535" y="803"/>
<use href="#P" x="483" y="968"/>
<use href="#P" x="492" y="1005"/>
<use href="#P" x="510" y="1009"/>
<use href="#P" x="538" y="1021"/>
<use href="#P" x="453" y="1050"/>
<use href="#P" x="471" y="1044"/>
<use href="#P" x="526" y="932"/>
<use href="#P" x="563" y="901"/>
<use href="#P" x="559" y="926"/>
<use href="#P" x="573" y="932"/>
<use href="#P" x="570" y="960"/>
<use href="#P" x="581" y="999"/>
<use href="#P" x="571" y="873"/>
<use href="#P" x="585" y="863"/>
<use href="#P" x="620" y="885"/>
<use href="#P" x="621" y="956"/>
<use href="#P" x="634" y="926"/>
<use href="#P" x="646" y="940"/>
<use href="#P" x="591" y="710"/>
<use href="#P" x="620" y="710"/>
<use href="#P" x="669" y="647"/>
<use href="#P" x="693" y="675"/>
<use href="#P" x="707" y="673"/>
<use href="#P" x="697" y="708"/>
<use href="#P" x="687" y="722"/>
<use href="#P" x="693" y="738"/>
<use href="#P" x="742" y="710"/>
<use href="#P" x="754" y="671"/>
<use href="#P" x="671" y="779"/>
<use href="#P" x="656" y="791"/>
<use href="#P" x="626" y="802"/>
<use href="#P" x="614" y="820"/>
<use href="#P" x="640" y="808"/>
<use href="#P" x="663" y="820"/>
<use href="#P" x="656" y="836"/>
<use href="#P" x="701" y="812"/>
<use href="#P" x="707" y="828"/>
<use href="#P" x="726" y="824"/>
<use href="#P" x="740" y="804"/>
<use href="#P" x="681" y="869"/>
<use href="#P" x="701" y="867"/>
<use href="#P" x="681" y="891"/>
<use href="#P" x="665" y="893"/>
<use href="#P" x="707" y="914"/>
<use href="#P" x="720" y="942"/>
<use href="#P" x="738" y="893"/>
<use href="#P" x="738" y="861"/>
<use href="#P" x="758" y="844"/>
<use href="#P" x="774" y="869"/>
<use href="#P" x="795" y="877"/>
<use href="#P" x="764" y="812"/>
<use href="#P" x="770" y="828"/>
<use href="#P" x="742" y="755"/>
<use href="#P" x="750" y="771"/>
<use href="#P" x="866" y="850"/>
<use href="#P" x="954" y="773"/>
<use href="#P" x="799" y="641"/>
<use href="#P" x="785" y="661"/>
<use href="#P" x="836" y="628"/>
<use href="#P" x="856" y="645"/>
<use href="#P" x="754" y="698"/>
<use href="#P" x="787" y="730"/>
<use href="#P" x="779" y="771"/>
<use href="#P" x="711" y="530"/>
<use href="#P" x="765" y="593"/>
<use href="#P" x="800" y="572"/>
<use href="#P" x="827" y="550"/>
<use href="#P" x="824" y="574"/>
<use href="#P" x="815" y="605"/>
<use href="#P" x="1105" y="405"/>
<use href="#P" x="1133" y="408"/>
<use href="#P" x="1102" y="427"/>
<use href="#P" x="1077" y="433"/>
<use href="#P" x="1068" y="452"/>
<use href="#P" x="1110" y="448"/>
<use href="#P" x="1168" y="435"/>
<use href="#P" x="966" y="456"/>
<use href="#P" x="974" y="478"/>
<use href="#P" x="1053" y="475"/>
<use href="#P" x="1060" y="485"/>
<use href="#P" x="1102" y="471"/>
<use href="#P" x="1073" y="501"/>
<use href="#P" x="1059" y="512"/>
<use href="#P" x="959" y="520"/>
<use href="#P" x="999" y="506"/>
<use href="#P" x="988" y="520"/>
<use href="#P" x="1008" y="526"/>
<use href="#P" x="967" y="534"/>
<use href="#P" x="1030" y="540"/>
<use href="#P" x="881" y="570"/>
<use href="#P" x="899" y="568"/>
<use href="#P" x="910" y="568"/>
<use href="#P" x="922" y="543"/>
<use href="#P" x="929" y="552"/>
<use href="#P" x="932" y="561"/>
<use href="#P" x="955" y="575"/>
<use href="#P" x="929" y="587"/>
<use href="#P" x="1108" y="482"/>
<use href="#P" x="1153" y="487"/>
<use href="#P" x="1176" y="485"/>
<use href="#P" x="1238" y="380"/>
<use href="#P" x="1347" y="336"/>
<use href="#P" x="1375" y="325"/>
<use href="#P" x="1500" y="260"/>
<use href="#P" x="1464" y="272"/>
<use href="#P" x="1488" y="282"/>
<use href="#P" x="1510" y="288"/>
<use href="#P" x="1423" y="314"/>
<use href="#P" x="1300" y="368"/>
<use href="#P" x="1476" y="381"/>
<use href="#P" x="1364" y="358"/>
<use href="#P" x="1335" y="374"/>
<use href="#P" x="1544" y="304"/>
<use href="#P" x="1592" y="285"/>
<use href="#P" x="1583" y="259"/>
<use href="#P" x="1572" y="238"/>
<use href="#P" x="1558" y="225"/>
<use href="#P" x="1325" y="147"/>
<use href="#P" x="1134" y="669"/>
<use href="#P" x="1096" y="683"/>
<use href="#P" x="1226" y="597"/>
<use href="#P" x="768" y="802"/>
<use href="#P" x="775" y="814"/>
<use href="#P" x="793" y="809"/>
<use href="#P" x="784" y="823"/>
<use href="#P" x="789" y="833"/>
<use href="#P" x="768" y="849"/>
<use href="#P" x="793" y="852"/>
<use href="#P" x="817" y="826"/>
<use href="#P" x="828" y="809"/>
<use href="#P" x="845" y="798"/></g>
<g fill="#0b4372"><circle cx="960.5" cy="832.9" r="13.7"/><circle cx="880.6" cy="918.6" r="13.7"/><circle cx="845.2" cy="1018.4" r="13.7"/><circle cx="1221.7" cy="807.8" r="13.7"/><circle cx="1082.5" cy="632.3" r="13.7"/><circle cx="1150.9" cy="625.0" r="13.7"/><circle cx="1176.7" cy="714.9" r="13.7"/><circle cx="1167.7" cy="741.7" r="13.7"/><circle cx="1198.7" cy="747.4" r="13.7"/><circle cx="1257.1" cy="682.4" r="13.7"/><circle cx="1286.7" cy="702.5" r="13.7"/><circle cx="1305.8" cy="728.3" r="13.7"/><circle cx="1320.2" cy="593.5" r="13.7"/><circle cx="1339.3" cy="576.3" r="13.7"/><circle cx="1357.5" cy="563.8" r="13.7"/><circle cx="1326.9" cy="642.2" r="13.7"/><circle cx="1447.1" cy="724.5" r="13.7"/><circle cx="1380.2" cy="693.9" r="13.7"/><circle cx="1428.0" cy="684.3" r="13.7"/><circle cx="1540.8" cy="674.7" r="13.7"/><circle cx="1477.7" cy="663.3" r="13.7"/><circle cx="1406.0" cy="670.9" r="13.7"/><circle cx="1431.8" cy="596.3" r="13.7"/><circle cx="1429.9" cy="617.4" r="13.7"/><circle cx="1481.5" cy="632.7" r="13.7"/><circle cx="1590.5" cy="625.0" r="13.7"/><circle cx="1615.4" cy="605.9" r="13.7"/><circle cx="1618.2" cy="577.2" r="13.7"/><circle cx="1554.2" cy="598.2" r="13.7"/><circle cx="1393.5" cy="579.1" r="13.7"/><circle cx="1366.8" cy="573.4" r="13.7"/><circle cx="1343.8" cy="575.3" r="13.7"/><circle cx="1681.1" cy="551.6" r="13.7"/><circle cx="1657.2" cy="534.4" r="13.7"/><circle cx="1469.5" cy="415.8" r="13.7"/><circle cx="1408.5" cy="521.9" r="13.7"/><circle cx="1384.9" cy="541.3" r="13.7"/><circle cx="1410.0" cy="547.0" r="13.7"/><circle cx="1364.8" cy="554.9" r="13.7"/><circle cx="1476.7" cy="549.2" r="13.7"/><circle cx="1478.1" cy="506.1" r="13.7"/><circle cx="1579.0" cy="393.6" r="13.7"/><circle cx="1599.8" cy="413.7" r="13.7"/><circle cx="1507.3" cy="470.4" r="13.7"/><circle cx="1526.7" cy="470.4" r="13.7"/><circle cx="1596.3" cy="454.6" r="13.7"/><circle cx="1639.3" cy="431.6" r="13.7"/><circle cx="1683.7" cy="504.8" r="13.7"/><circle cx="1660.8" cy="506.2" r="13.7"/><circle cx="1488.7" cy="503.3" r="13.7"/><circle cx="1501.6" cy="512.0" r="13.7"/><circle cx="1514.5" cy="520.6" r="13.7"/><circle cx="1557.5" cy="499.0" r="13.7"/><circle cx="1574.7" cy="500.5" r="13.7"/><circle cx="1596.3" cy="506.2" r="13.7"/><circle cx="1660.8" cy="523.4" r="13.7"/><circle cx="1484.4" cy="540.6" r="13.7"/><circle cx="1771.8" cy="499.0" r="13.7"/><circle cx="1784.7" cy="483.3" r="13.7"/><circle cx="1801.9" cy="451.7" r="13.7"/><circle cx="1823.4" cy="443.1" r="13.7"/><circle cx="1842.1" cy="441.7" r="13.7"/><circle cx="1734.5" cy="494.7" r="13.7"/><circle cx="1747.4" cy="483.3" r="13.7"/><circle cx="1760.3" cy="471.8" r="13.7"/><circle cx="1757.5" cy="448.8" r="13.7"/><circle cx="1740.2" cy="446.0" r="13.7"/><circle cx="1748.8" cy="464.6" r="13.7"/><circle cx="1731.6" cy="473.2" r="13.7"/><circle cx="1763.2" cy="460.3" r="13.7"/><circle cx="1768.9" cy="423.0" r="13.7"/><circle cx="1797.6" cy="421.6" r="13.7"/><circle cx="1780.4" cy="405.8" r="13.7"/><circle cx="1760.3" cy="397.2" r="13.7"/><circle cx="1824.9" cy="408.7" r="13.7"/><circle cx="1856.4" cy="395.8" r="13.7"/><circle cx="1877.9" cy="384.3" r="13.7"/><circle cx="1832.0" cy="390.0" r="13.7"/><circle cx="1801.9" cy="401.5" r="13.7"/><circle cx="1817.7" cy="418.7" r="13.7"/><circle cx="1761.5" cy="273.7" r="13.7"/><circle cx="1677.6" cy="382.0" r="13.7"/><circle cx="1716.3" cy="351.9" r="13.7"/><circle cx="1746.5" cy="336.1" r="13.7"/><circle cx="1760.8" cy="313.2" r="13.7"/><circle cx="1775.1" cy="316.1" r="13.7"/><circle cx="1792.4" cy="324.7" r="13.7"/><circle cx="1735.0" cy="369.1" r="13.7"/><circle cx="1753.6" cy="359.1" r="13.7"/><circle cx="1772.3" cy="356.2" r="13.7"/><circle cx="1783.7" cy="339.0" r="13.7"/><circle cx="1830.2" cy="303.0" r="13.7"/><circle cx="1848.8" cy="308.8" r="13.7"/><circle cx="1868.9" cy="305.9" r="13.7"/><circle cx="1887.6" cy="298.7" r="13.7"/><circle cx="1909.1" cy="290.1" r="13.7"/><circle cx="1871.8" cy="277.2" r="13.7"/><circle cx="1880.4" cy="268.6" r="13.7"/><circle cx="1930.6" cy="313.8" r="13.7"/><circle cx="1904.8" cy="320.2" r="13.7"/><circle cx="1906.2" cy="334.6" r="13.7"/><circle cx="1919.1" cy="346.1" r="13.7"/><circle cx="1837.4" cy="324.5" r="13.7"/><circle cx="1860.3" cy="324.5" r="13.7"/><circle cx="1871.8" cy="340.3" r="13.7"/><circle cx="1834.5" cy="346.1" r="13.7"/><circle cx="1794.3" cy="320.2" r="13.7"/><circle cx="1813.0" cy="321.7" r="13.7"/><circle cx="1837.4" cy="374.7" r="13.7"/><circle cx="1820.2" cy="389.1" r="13.7"/><circle cx="1788.6" cy="403.4" r="13.7"/><circle cx="1809.1" cy="181.9" r="13.7"/><circle cx="1828.6" cy="198.4" r="13.7"/><circle cx="1960.2" cy="194.7" r="13.7"/><circle cx="1955.9" cy="214.8" r="13.7"/><circle cx="1990.1" cy="228.8" r="13.7"/><circle cx="1939.5" cy="245.3" r="13.7"/><circle cx="1974.2" cy="252.6" r="13.7"/><circle cx="1873.1" cy="253.2" r="13.7"/><circle cx="1887.1" cy="270.3" r="13.7"/><circle cx="1870.1" cy="278.8" r="13.7"/><circle cx="1640.2" cy="430.9" r="13.7"/><circle cx="1655.3" cy="435.2" r="13.7"/><circle cx="1671.4" cy="435.2" r="13.7"/><circle cx="1682.2" cy="443.8" r="13.7"/><circle cx="1698.3" cy="452.4" r="13.7"/><circle cx="1714.5" cy="456.7" r="13.7"/><circle cx="1730.6" cy="465.3" r="13.7"/><circle cx="1736.0" cy="481.4" r="13.7"/><circle cx="1746.7" cy="492.2" r="13.7"/><circle cx="1719.8" cy="484.7" r="13.7"/><circle cx="1671.4" cy="492.2" r="13.7"/><circle cx="1663.9" cy="502.9" r="13.7"/><circle cx="1676.8" cy="506.2" r="13.7"/><circle cx="1746.7" cy="438.4" r="13.7"/><circle cx="1754.3" cy="465.3" r="13.7"/><circle cx="1649.9" cy="402.9" r="13.7"/><circle cx="1594.0" cy="492.2" r="13.7"/></g>
<g fill="#5f8baf"><circle cx="960.5" cy="832.9" r="10.6"/><circle cx="880.6" cy="918.6" r="10.6"/><circle cx="845.2" cy="1018.4" r="10.6"/><circle cx="1221.7" cy="807.8" r="10.6"/><circle cx="1082.5" cy="632.3" r="10.6"/><circle cx="1150.9" cy="625.0" r="10.6"/><circle cx="1176.7" cy="714.9" r="10.6"/><circle cx="1167.7" cy="741.7" r="10.6"/><circle cx="1198.7" cy="747.4" r="10.6"/><circle cx="1257.1" cy="682.4" r="10.6"/><circle cx="1286.7" cy="702.5" r="10.6"/><circle cx="1305.8" cy="728.3" r="10.6"/><circle cx="1320.2" cy="593.5" r="10.6"/><circle cx="1339.3" cy="576.3" r="10.6"/><circle cx="1357.5" cy="563.8" r="10.6"/><circle cx="1326.9" cy="642.2" r="10.6"/><circle cx="1447.1" cy="724.5" r="10.6"/><circle cx="1380.2" cy="693.9" r="10.6"/><circle cx="1428.0" cy="684.3" r="10.6"/><circle cx="1540.8" cy="674.7" r="10.6"/><circle cx="1477.7" cy="663.3" r="10.6"/><circle cx="1406.0" cy="670.9" r="10.6"/><circle cx="1431.8" cy="596.3" r="10.6"/><circle cx="1429.9" cy="617.4" r="10.6"/><circle cx="1481.5" cy="632.7" r="10.6"/><circle cx="1590.5" cy="625.0" r="10.6"/><circle cx="1615.4" cy="605.9" r="10.6"/><circle cx="1618.2" cy="577.2" r="10.6"/><circle cx="1554.2" cy="598.2" r="10.6"/><circle cx="1393.5" cy="579.1" r="10.6"/><circle cx="1366.8" cy="573.4" r="10.6"/><circle cx="1343.8" cy="575.3" r="10.6"/><circle cx="1681.1" cy="551.6" r="10.6"/><circle cx="1657.2" cy="534.4" r="10.6"/><circle cx="1469.5" cy="415.8" r="10.6"/><circle cx="1408.5" cy="521.9" r="10.6"/><circle cx="1384.9" cy="541.3" r="10.6"/><circle cx="1410.0" cy="547.0" r="10.6"/><circle cx="1364.8" cy="554.9" r="10.6"/><circle cx="1476.7" cy="549.2" r="10.6"/><circle cx="1478.1" cy="506.1" r="10.6"/><circle cx="1579.0" cy="393.6" r="10.6"/><circle cx="1599.8" cy="413.7" r="10.6"/><circle cx="1507.3" cy="470.4" r="10.6"/><circle cx="1526.7" cy="470.4" r="10.6"/><circle cx="1596.3" cy="454.6" r="10.6"/><circle cx="1639.3" cy="431.6" r="10.6"/><circle cx="1683.7" cy="504.8" r="10.6"/><circle cx="1660.8" cy="506.2" r="10.6"/><circle cx="1488.7" cy="503.3" r="10.6"/><circle cx="1501.6" cy="512.0" r="10.6"/><circle cx="1514.5" cy="520.6" r="10.6"/><circle cx="1557.5" cy="499.0" r="10.6"/><circle cx="1574.7" cy="500.5" r="10.6"/><circle cx="1596.3" cy="506.2" r="10.6"/><circle cx="1660.8" cy="523.4" r="10.6"/><circle cx="1484.4" cy="540.6" r="10.6"/><circle cx="1771.8" cy="499.0" r="10.6"/><circle cx="1784.7" cy="483.3" r="10.6"/><circle cx="1801.9" cy="451.7" r="10.6"/><circle cx="1823.4" cy="443.1" r="10.6"/><circle cx="1842.1" cy="441.7" r="10.6"/><circle cx="1734.5" cy="494.7" r="10.6"/><circle cx="1747.4" cy="483.3" r="10.6"/><circle cx="1760.3" cy="471.8" r="10.6"/><circle cx="1757.5" cy="448.8" r="10.6"/><circle cx="1740.2" cy="446.0" r="10.6"/><circle cx="1748.8" cy="464.6" r="10.6"/><circle cx="1731.6" cy="473.2" r="10.6"/><circle cx="1763.2" cy="460.3" r="10.6"/><circle cx="1768.9" cy="423.0" r="10.6"/><circle cx="1797.6" cy="421.6" r="10.6"/><circle cx="1780.4" cy="405.8" r="10.6"/><circle cx="1760.3" cy="397.2" r="10.6"/><circle cx="1824.9" cy="408.7" r="10.6"/><circle cx="1856.4" cy="395.8" r="10.6"/><circle cx="1877.9" cy="384.3" r="10.6"/><circle cx="1832.0" cy="390.0" r="10.6"/><circle cx="1801.9" cy="401.5" r="10.6"/><circle cx="1817.7" cy="418.7" r="10.6"/><circle cx="1761.5" cy="273.7" r="10.6"/><circle cx="1677.6" cy="382.0" r="10.6"/><circle cx="1716.3" cy="351.9" r="10.6"/><circle cx="1746.5" cy="336.1" r="10.6"/><circle cx="1760.8" cy="313.2" r="10.6"/><circle cx="1775.1" cy="316.1" r="10.6"/><circle cx="1792.4" cy="324.7" r="10.6"/><circle cx="1735.0" cy="369.1" r="10.6"/><circle cx="1753.6" cy="359.1" r="10.6"/><circle cx="1772.3" cy="356.2" r="10.6"/><circle cx="1783.7" cy="339.0" r="10.6"/><circle cx="1830.2" cy="303.0" r="10.6"/><circle cx="1848.8" cy="308.8" r="10.6"/><circle cx="1868.9" cy="305.9" r="10.6"/><circle cx="1887.6" cy="298.7" r="10.6"/><circle cx="1909.1" cy="290.1" r="10.6"/><circle cx="1871.8" cy="277.2" r="10.6"/><circle cx="1880.4" cy="268.6" r="10.6"/><circle cx="1930.6" cy="313.8" r="10.6"/><circle cx="1904.8" cy="320.2" r="10.6"/><circle cx="1906.2" cy="334.6" r="10.6"/><circle cx="1919.1" cy="346.1" r="10.6"/><circle cx="1837.4" cy="324.5" r="10.6"/><circle cx="1860.3" cy="324.5" r="10.6"/><circle cx="1871.8" cy="340.3" r="10.6"/><circle cx="1834.5" cy="346.1" r="10.6"/><circle cx="1794.3" cy="320.2" r="10.6"/><circle cx="1813.0" cy="321.7" r="10.6"/><circle cx="1837.4" cy="374.7" r="10.6"/><circle cx="1820.2" cy="389.1" r="10.6"/><circle cx="1788.6" cy="403.4" r="10.6"/><circle cx="1809.1" cy="181.9" r="10.6"/><circle cx="1828.6" cy="198.4" r="10.6"/><circle cx="1960.2" cy="194.7" r="10.6"/><circle cx="1955.9" cy="214.8" r="10.6"/><circle cx="1990.1" cy="228.8" r="10.6"/><circle cx="1939.5" cy="245.3" r="10.6"/><circle cx="1974.2" cy="252.6" r="10.6"/><circle cx="1873.1" cy="253.2" r="10.6"/><circle cx="1887.1" cy="270.3" r="10.6"/><circle cx="1870.1" cy="278.8" r="10.6"/><circle cx="1640.2" cy="430.9" r="10.6"/><circle cx="1655.3" cy="435.2" r="10.6"/><circle cx="1671.4" cy="435.2" r="10.6"/><circle cx="1682.2" cy="443.8" r="10.6"/><circle cx="1698.3" cy="452.4" r="10.6"/><circle cx="1714.5" cy="456.7" r="10.6"/><circle cx="1730.6" cy="465.3" r="10.6"/><circle cx="1736.0" cy="481.4" r="10.6"/><circle cx="1746.7" cy="492.2" r="10.6"/><circle cx="1719.8" cy="484.7" r="10.6"/><circle cx="1671.4" cy="492.2" r="10.6"/><circle cx="1663.9" cy="502.9" r="10.6"/><circle cx="1676.8" cy="506.2" r="10.6"/><circle cx="1746.7" cy="438.4" r="10.6"/><circle cx="1754.3" cy="465.3" r="10.6"/><circle cx="1649.9" cy="402.9" r="10.6"/><circle cx="1594.0" cy="492.2" r="10.6"/></g>
<g fill="#0f8783"><circle cx="994.9" cy="857.0" r="13.7"/><circle cx="1049.8" cy="896.2" r="13.7"/><circle cx="787.4" cy="922.4" r="13.7"/><circle cx="967.6" cy="949.2" r="13.7"/><circle cx="1141.4" cy="810.7" r="13.7"/><circle cx="1171.4" cy="813.2" r="13.7"/><circle cx="1211.7" cy="843.6" r="13.7"/><circle cx="1194.9" cy="864.2" r="13.7"/><circle cx="1313.5" cy="874.4" r="13.7"/><circle cx="1229.3" cy="779.1" r="13.7"/><circle cx="1246.5" cy="773.4" r="13.7"/><circle cx="1244.6" cy="815.5" r="13.7"/><circle cx="1256.1" cy="811.6" r="13.7"/><circle cx="1269.5" cy="801.1" r="13.7"/><circle cx="1393.5" cy="787.4" r="13.7"/><circle cx="1361.4" cy="822.6" r="13.7"/><circle cx="1074.0" cy="652.2" r="13.7"/><circle cx="1120.9" cy="642.2" r="13.7"/><circle cx="1069.1" cy="721.0" r="13.7"/><circle cx="1106.0" cy="749.3" r="13.7"/><circle cx="1178.6" cy="729.2" r="13.7"/><circle cx="1193.0" cy="728.3" r="13.7"/><circle cx="1231.8" cy="706.7" r="13.7"/><circle cx="1279.0" cy="647.4" r="13.7"/><circle cx="1265.7" cy="688.1" r="13.7"/><circle cx="1277.1" cy="679.5" r="13.7"/><circle cx="1292.4" cy="725.4" r="13.7"/><circle cx="1306.8" cy="690.0" r="13.7"/><circle cx="1307.7" cy="701.5" r="13.7"/><circle cx="1326.9" cy="697.7" r="13.7"/><circle cx="1338.3" cy="690.0" r="13.7"/><circle cx="1353.6" cy="659.4" r="13.7"/><circle cx="1346.0" cy="741.7" r="13.7"/><circle cx="1315.4" cy="776.1" r="13.7"/><circle cx="1346.0" cy="770.4" r="13.7"/><circle cx="1349.8" cy="604.0" r="13.7"/><circle cx="1338.3" cy="623.1" r="13.7"/><circle cx="1316.3" cy="635.5" r="13.7"/><circle cx="1477.3" cy="734.4" r="13.7"/><circle cx="1421.3" cy="738.8" r="13.7"/><circle cx="1394.5" cy="733.1" r="13.7"/><circle cx="1394.5" cy="748.4" r="13.7"/><circle cx="1449.0" cy="714.9" r="13.7"/><circle cx="1441.4" cy="705.3" r="13.7"/><circle cx="1374.4" cy="712.0" r="13.7"/><circle cx="1477.7" cy="688.1" r="13.7"/><circle cx="1504.5" cy="682.4" r="13.7"/><circle cx="1494.9" cy="657.5" r="13.7"/><circle cx="1359.1" cy="661.4" r="13.7"/><circle cx="1380.2" cy="638.4" r="13.7"/><circle cx="1384.0" cy="657.5" r="13.7"/><circle cx="1391.6" cy="617.4" r="13.7"/><circle cx="1411.7" cy="607.8" r="13.7"/><circle cx="1403.1" cy="626.9" r="13.7"/><circle cx="1420.3" cy="640.3" r="13.7"/><circle cx="1435.6" cy="638.4" r="13.7"/><circle cx="1439.4" cy="649.9" r="13.7"/><circle cx="1454.7" cy="646.1" r="13.7"/><circle cx="1456.7" cy="626.9" r="13.7"/><circle cx="1456.7" cy="607.8" r="13.7"/><circle cx="1483.4" cy="621.2" r="13.7"/><circle cx="1515.9" cy="642.2" r="13.7"/><circle cx="1537.0" cy="651.8" r="13.7"/><circle cx="1552.3" cy="640.3" r="13.7"/><circle cx="1550.4" cy="611.6" r="13.7"/><circle cx="1531.2" cy="623.1" r="13.7"/><circle cx="1575.2" cy="625.0" r="13.7"/><circle cx="1584.8" cy="604.0" r="13.7"/><circle cx="1569.5" cy="588.7" r="13.7"/><circle cx="1548.4" cy="577.2" r="13.7"/><circle cx="1523.6" cy="588.7" r="13.7"/><circle cx="1529.3" cy="598.2" r="13.7"/><circle cx="1491.1" cy="571.5" r="13.7"/><circle cx="1466.2" cy="565.7" r="13.7"/><circle cx="1351.5" cy="604.0" r="13.7"/><circle cx="1343.8" cy="623.1" r="13.7"/><circle cx="1717.5" cy="531.6" r="13.7"/><circle cx="1677.3" cy="534.4" r="13.7"/><circle cx="1645.7" cy="536.3" r="13.7"/><circle cx="1406.4" cy="498.0" r="13.7"/><circle cx="1464.5" cy="486.8" r="13.7"/><circle cx="1440.8" cy="537.7" r="13.7"/><circle cx="1455.1" cy="536.3" r="13.7"/><circle cx="1472.4" cy="527.6" r="13.7"/><circle cx="1463.7" cy="554.9" r="13.7"/><circle cx="1567.6" cy="477.5" r="13.7"/><circle cx="1597.7" cy="466.1" r="13.7"/><circle cx="1594.8" cy="479.0" r="13.7"/><circle cx="1606.3" cy="483.3" r="13.7"/><circle cx="1623.5" cy="468.9" r="13.7"/><circle cx="1613.5" cy="493.3" r="13.7"/><circle cx="1646.5" cy="466.1" r="13.7"/><circle cx="1665.1" cy="418.7" r="13.7"/><circle cx="1683.7" cy="400.1" r="13.7"/><circle cx="1692.4" cy="430.2" r="13.7"/><circle cx="1680.9" cy="457.5" r="13.7"/><circle cx="1672.3" cy="471.8" r="13.7"/><circle cx="1688.0" cy="489.0" r="13.7"/><circle cx="1692.4" cy="501.9" r="13.7"/><circle cx="1646.5" cy="494.7" r="13.7"/><circle cx="1640.7" cy="514.8" r="13.7"/><circle cx="1531.7" cy="494.7" r="13.7"/><circle cx="1537.5" cy="514.8" r="13.7"/><circle cx="1501.6" cy="544.9" r="13.7"/><circle cx="1603.4" cy="520.6" r="13.7"/><circle cx="1652.2" cy="532.0" r="13.7"/><circle cx="1653.6" cy="557.8" r="13.7"/><circle cx="1520.2" cy="544.9" r="13.7"/><circle cx="1731.6" cy="413.0" r="13.7"/><circle cx="1715.9" cy="440.2" r="13.7"/><circle cx="1713.0" cy="397.2" r="13.7"/><circle cx="1694.3" cy="391.5" r="13.7"/><circle cx="1713.0" cy="474.7" r="13.7"/><circle cx="1698.6" cy="486.1" r="13.7"/><circle cx="1700.1" cy="503.3" r="13.7"/><circle cx="1712.7" cy="250.1" r="13.7"/><circle cx="1758.6" cy="372.0" r="13.7"/><circle cx="1790.9" cy="353.3" r="13.7"/><circle cx="1857.5" cy="366.9" r="13.7"/><circle cx="1797.2" cy="344.6" r="13.7"/><circle cx="1817.3" cy="344.6" r="13.7"/><circle cx="1791.5" cy="357.5" r="13.7"/><circle cx="1811.6" cy="366.1" r="13.7"/><circle cx="1945.6" cy="255.6" r="13.7"/></g>
<g fill="#45b3aa"><circle cx="994.9" cy="857.0" r="10.6"/><circle cx="1049.8" cy="896.2" r="10.6"/><circle cx="787.4" cy="922.4" r="10.6"/><circle cx="967.6" cy="949.2" r="10.6"/><circle cx="1141.4" cy="810.7" r="10.6"/><circle cx="1171.4" cy="813.2" r="10.6"/><circle cx="1211.7" cy="843.6" r="10.6"/><circle cx="1194.9" cy="864.2" r="10.6"/><circle cx="1313.5" cy="874.4" r="10.6"/><circle cx="1229.3" cy="779.1" r="10.6"/><circle cx="1246.5" cy="773.4" r="10.6"/><circle cx="1244.6" cy="815.5" r="10.6"/><circle cx="1256.1" cy="811.6" r="10.6"/><circle cx="1269.5" cy="801.1" r="10.6"/><circle cx="1393.5" cy="787.4" r="10.6"/><circle cx="1361.4" cy="822.6" r="10.6"/><circle cx="1074.0" cy="652.2" r="10.6"/><circle cx="1120.9" cy="642.2" r="10.6"/><circle cx="1069.1" cy="721.0" r="10.6"/><circle cx="1106.0" cy="749.3" r="10.6"/><circle cx="1178.6" cy="729.2" r="10.6"/><circle cx="1193.0" cy="728.3" r="10.6"/><circle cx="1231.8" cy="706.7" r="10.6"/><circle cx="1279.0" cy="647.4" r="10.6"/><circle cx="1265.7" cy="688.1" r="10.6"/><circle cx="1277.1" cy="679.5" r="10.6"/><circle cx="1292.4" cy="725.4" r="10.6"/><circle cx="1306.8" cy="690.0" r="10.6"/><circle cx="1307.7" cy="701.5" r="10.6"/><circle cx="1326.9" cy="697.7" r="10.6"/><circle cx="1338.3" cy="690.0" r="10.6"/><circle cx="1353.6" cy="659.4" r="10.6"/><circle cx="1346.0" cy="741.7" r="10.6"/><circle cx="1315.4" cy="776.1" r="10.6"/><circle cx="1346.0" cy="770.4" r="10.6"/><circle cx="1349.8" cy="604.0" r="10.6"/><circle cx="1338.3" cy="623.1" r="10.6"/><circle cx="1316.3" cy="635.5" r="10.6"/><circle cx="1477.3" cy="734.4" r="10.6"/><circle cx="1421.3" cy="738.8" r="10.6"/><circle cx="1394.5" cy="733.1" r="10.6"/><circle cx="1394.5" cy="748.4" r="10.6"/><circle cx="1449.0" cy="714.9" r="10.6"/><circle cx="1441.4" cy="705.3" r="10.6"/><circle cx="1374.4" cy="712.0" r="10.6"/><circle cx="1477.7" cy="688.1" r="10.6"/><circle cx="1504.5" cy="682.4" r="10.6"/><circle cx="1494.9" cy="657.5" r="10.6"/><circle cx="1359.1" cy="661.4" r="10.6"/><circle cx="1380.2" cy="638.4" r="10.6"/><circle cx="1384.0" cy="657.5" r="10.6"/><circle cx="1391.6" cy="617.4" r="10.6"/><circle cx="1411.7" cy="607.8" r="10.6"/><circle cx="1403.1" cy="626.9" r="10.6"/><circle cx="1420.3" cy="640.3" r="10.6"/><circle cx="1435.6" cy="638.4" r="10.6"/><circle cx="1439.4" cy="649.9" r="10.6"/><circle cx="1454.7" cy="646.1" r="10.6"/><circle cx="1456.7" cy="626.9" r="10.6"/><circle cx="1456.7" cy="607.8" r="10.6"/><circle cx="1483.4" cy="621.2" r="10.6"/><circle cx="1515.9" cy="642.2" r="10.6"/><circle cx="1537.0" cy="651.8" r="10.6"/><circle cx="1552.3" cy="640.3" r="10.6"/><circle cx="1550.4" cy="611.6" r="10.6"/><circle cx="1531.2" cy="623.1" r="10.6"/><circle cx="1575.2" cy="625.0" r="10.6"/><circle cx="1584.8" cy="604.0" r="10.6"/><circle cx="1569.5" cy="588.7" r="10.6"/><circle cx="1548.4" cy="577.2" r="10.6"/><circle cx="1523.6" cy="588.7" r="10.6"/><circle cx="1529.3" cy="598.2" r="10.6"/><circle cx="1491.1" cy="571.5" r="10.6"/><circle cx="1466.2" cy="565.7" r="10.6"/><circle cx="1351.5" cy="604.0" r="10.6"/><circle cx="1343.8" cy="623.1" r="10.6"/><circle cx="1717.5" cy="531.6" r="10.6"/><circle cx="1677.3" cy="534.4" r="10.6"/><circle cx="1645.7" cy="536.3" r="10.6"/><circle cx="1406.4" cy="498.0" r="10.6"/><circle cx="1464.5" cy="486.8" r="10.6"/><circle cx="1440.8" cy="537.7" r="10.6"/><circle cx="1455.1" cy="536.3" r="10.6"/><circle cx="1472.4" cy="527.6" r="10.6"/><circle cx="1463.7" cy="554.9" r="10.6"/><circle cx="1567.6" cy="477.5" r="10.6"/><circle cx="1597.7" cy="466.1" r="10.6"/><circle cx="1594.8" cy="479.0" r="10.6"/><circle cx="1606.3" cy="483.3" r="10.6"/><circle cx="1623.5" cy="468.9" r="10.6"/><circle cx="1613.5" cy="493.3" r="10.6"/><circle cx="1646.5" cy="466.1" r="10.6"/><circle cx="1665.1" cy="418.7" r="10.6"/><circle cx="1683.7" cy="400.1" r="10.6"/><circle cx="1692.4" cy="430.2" r="10.6"/><circle cx="1680.9" cy="457.5" r="10.6"/><circle cx="1672.3" cy="471.8" r="10.6"/><circle cx="1688.0" cy="489.0" r="10.6"/><circle cx="1692.4" cy="501.9" r="10.6"/><circle cx="1646.5" cy="494.7" r="10.6"/><circle cx="1640.7" cy="514.8" r="10.6"/><circle cx="1531.7" cy="494.7" r="10.6"/><circle cx="1537.5" cy="514.8" r="10.6"/><circle cx="1501.6" cy="544.9" r="10.6"/><circle cx="1603.4" cy="520.6" r="10.6"/><circle cx="1652.2" cy="532.0" r="10.6"/><circle cx="1653.6" cy="557.8" r="10.6"/><circle cx="1520.2" cy="544.9" r="10.6"/><circle cx="1731.6" cy="413.0" r="10.6"/><circle cx="1715.9" cy="440.2" r="10.6"/><circle cx="1713.0" cy="397.2" r="10.6"/><circle cx="1694.3" cy="391.5" r="10.6"/><circle cx="1713.0" cy="474.7" r="10.6"/><circle cx="1698.6" cy="486.1" r="10.6"/><circle cx="1700.1" cy="503.3" r="10.6"/><circle cx="1712.7" cy="250.1" r="10.6"/><circle cx="1758.6" cy="372.0" r="10.6"/><circle cx="1790.9" cy="353.3" r="10.6"/><circle cx="1857.5" cy="366.9" r="10.6"/><circle cx="1797.2" cy="344.6" r="10.6"/><circle cx="1817.3" cy="344.6" r="10.6"/><circle cx="1791.5" cy="357.5" r="10.6"/><circle cx="1811.6" cy="366.1" r="10.6"/><circle cx="1945.6" cy="255.6" r="10.6"/></g>
<circle cx="1463.3" cy="592.5" r="11.8" fill="#fff" stroke="#0b4372" stroke-width="5"/>
<circle cx="1515.0" cy="626.9" r="11.8" fill="#fff" stroke="#0b4372" stroke-width="5"/>
<circle cx="1660.1" cy="387.9" r="11.8" fill="#fff" stroke="#0b4372" stroke-width="5"/>
<circle cx="1630.0" cy="499.0" r="11.8" fill="#fff" stroke="#0b4372" stroke-width="5"/>
<circle cx="1566.1" cy="520.6" r="11.8" fill="#fff" stroke="#0b4372" stroke-width="5"/>
<circle cx="1560.4" cy="534.9" r="11.8" fill="#fff" stroke="#0b4372" stroke-width="5"/>
<circle cx="1784.7" cy="453.9" r="11.8" fill="#fff" stroke="#0b4372" stroke-width="5"/>
<circle cx="1744.5" cy="418.0" r="11.8" fill="#fff" stroke="#0b4372" stroke-width="5"/>
<circle cx="1803.3" cy="382.9" r="11.8" fill="#fff" stroke="#0b4372" stroke-width="5"/>
<circle cx="1881.1" cy="362.5" r="11.8" fill="#fff" stroke="#0b4372" stroke-width="5"/>
<circle cx="1018.8" cy="966.4" r="11.8" fill="#fff" stroke="#0f8783" stroke-width="5"/>
<circle cx="1147.7" cy="833.6" r="11.8" fill="#fff" stroke="#0f8783" stroke-width="5"/>
<circle cx="1238.9" cy="798.2" r="11.8" fill="#fff" stroke="#0f8783" stroke-width="5"/>
<circle cx="1261.8" cy="795.4" r="11.8" fill="#fff" stroke="#0f8783" stroke-width="5"/>
<circle cx="1351.7" cy="789.6" r="11.8" fill="#fff" stroke="#0f8783" stroke-width="5"/>
<circle cx="1353.6" cy="682.4" r="11.8" fill="#fff" stroke="#0f8783" stroke-width="5"/>
<circle cx="1338.3" cy="723.5" r="11.8" fill="#fff" stroke="#0f8783" stroke-width="5"/>
<circle cx="1324.9" cy="734.0" r="11.8" fill="#fff" stroke="#0f8783" stroke-width="5"/>
<circle cx="1329.7" cy="759.8" r="11.8" fill="#fff" stroke="#0f8783" stroke-width="5"/>
<circle cx="1444.2" cy="680.5" r="11.8" fill="#fff" stroke="#0f8783" stroke-width="5"/>
<circle cx="1453.8" cy="690.0" r="11.8" fill="#fff" stroke="#0f8783" stroke-width="5"/>
<circle cx="1529.3" cy="675.7" r="11.8" fill="#fff" stroke="#0f8783" stroke-width="5"/>
<circle cx="1409.8" cy="660.4" r="11.8" fill="#fff" stroke="#0f8783" stroke-width="5"/>
<circle cx="1612.7" cy="434.5" r="11.8" fill="#fff" stroke="#0f8783" stroke-width="5"/>
<circle cx="1642.2" cy="444.5" r="11.8" fill="#fff" stroke="#0f8783" stroke-width="5"/>
<circle cx="1654.3" cy="454.6" r="11.8" fill="#fff" stroke="#0f8783" stroke-width="5"/>
<circle cx="1541.8" cy="532.0" r="11.8" fill="#fff" stroke="#0f8783" stroke-width="5"/>
<circle cx="1613.5" cy="526.3" r="11.8" fill="#fff" stroke="#0f8783" stroke-width="5"/>
<circle cx="1597.7" cy="534.9" r="11.8" fill="#fff" stroke="#0f8783" stroke-width="5"/>
<circle cx="1546.1" cy="556.4" r="11.8" fill="#fff" stroke="#0f8783" stroke-width="5"/>
<circle cx="1570.4" cy="553.5" r="11.8" fill="#fff" stroke="#0f8783" stroke-width="5"/>
<circle cx="1730.0" cy="348.3" r="11.8" fill="#fff" stroke="#0f8783" stroke-width="5"/>
<circle cx="1090.7" cy="818.3" r="11.8" fill="#f4c3c4" stroke="#000" stroke-width="1.3"/>
<circle cx="1220.7" cy="790.6" r="11.8" fill="#f4c3c4" stroke="#000" stroke-width="1.3"/>
<path d="M1012.65,934.00 L1018.80,940.15 L1024.95,934.00 L1031.10,940.15 L1024.95,946.30 L1031.10,952.45 L1024.95,958.60 L1018.80,952.45 L1012.65,958.60 L1006.50,952.45 L1012.65,946.30 L1006.50,940.15Z" fill="#000" stroke="#000" stroke-width="5.0" stroke-linejoin="round"/><path d="M1012.65,934.00 L1018.80,940.15 L1024.95,934.00 L1031.10,940.15 L1024.95,946.30 L1031.10,952.45 L1024.95,958.60 L1018.80,952.45 L1012.65,958.60 L1006.50,952.45 L1012.65,946.30 L1006.50,940.15Z" fill="#f3c3c3" stroke="#f69c9c" stroke-width="2.4" stroke-linejoin="round"/>
<path d="M1088.35,728.40 L1094.50,734.55 L1100.65,728.40 L1106.80,734.55 L1100.65,740.70 L1106.80,746.85 L1100.65,753.00 L1094.50,746.85 L1088.35,753.00 L1082.20,746.85 L1088.35,740.70 L1082.20,734.55Z" fill="#000" stroke="#000" stroke-width="5.0" stroke-linejoin="round"/><path d="M1088.35,728.40 L1094.50,734.55 L1100.65,728.40 L1106.80,734.55 L1100.65,740.70 L1106.80,746.85 L1100.65,753.00 L1094.50,746.85 L1088.35,753.00 L1082.20,746.85 L1088.35,740.70 L1082.20,734.55Z" fill="#f3c3c3" stroke="#f69c9c" stroke-width="2.4" stroke-linejoin="round"/>
<path d="M1452.45,649.10 L1458.60,655.25 L1464.75,649.10 L1470.90,655.25 L1464.75,661.40 L1470.90,667.55 L1464.75,673.70 L1458.60,667.55 L1452.45,673.70 L1446.30,667.55 L1452.45,661.40 L1446.30,655.25Z" fill="#000" stroke="#000" stroke-width="5.0" stroke-linejoin="round"/><path d="M1452.45,649.10 L1458.60,655.25 L1464.75,649.10 L1470.90,655.25 L1464.75,661.40 L1470.90,667.55 L1464.75,673.70 L1458.60,667.55 L1452.45,673.70 L1446.30,667.55 L1452.45,661.40 L1446.30,655.25Z" fill="#f3c3c3" stroke="#f69c9c" stroke-width="2.4" stroke-linejoin="round"/>
<path d="M1487.75,587.90 L1493.90,594.05 L1500.05,587.90 L1506.20,594.05 L1500.05,600.20 L1506.20,606.35 L1500.05,612.50 L1493.90,606.35 L1487.75,612.50 L1481.60,606.35 L1487.75,600.20 L1481.60,594.05Z" fill="#000" stroke="#000" stroke-width="5.0" stroke-linejoin="round"/><path d="M1487.75,587.90 L1493.90,594.05 L1500.05,587.90 L1506.20,594.05 L1500.05,600.20 L1506.20,606.35 L1500.05,612.50 L1493.90,606.35 L1487.75,612.50 L1481.60,606.35 L1487.75,600.20 L1481.60,594.05Z" fill="#f3c3c3" stroke="#f69c9c" stroke-width="2.4" stroke-linejoin="round"/>
<path d="M1144.20,850.60 L1147.90,862.00 L1159.89,862.00 L1150.19,869.05 L1153.90,880.45 L1144.20,873.40 L1134.50,880.45 L1138.21,869.05 L1128.51,862.00 L1140.50,862.00Z" fill="#000" stroke="#000" stroke-width="5.0" stroke-linejoin="round"/><path d="M1144.20,850.60 L1147.90,862.00 L1159.89,862.00 L1150.19,869.05 L1153.90,880.45 L1144.20,873.40 L1134.50,880.45 L1138.21,869.05 L1128.51,862.00 L1140.50,862.00Z" fill="#f3c3c3" stroke="#f69c9c" stroke-width="2.6" stroke-linejoin="round"/>
<path d="M1204.50,723.30 L1208.20,734.70 L1220.19,734.70 L1210.49,741.75 L1214.20,753.15 L1204.50,746.10 L1194.80,753.15 L1198.51,741.75 L1188.81,734.70 L1200.80,734.70Z" fill="#000" stroke="#000" stroke-width="5.0" stroke-linejoin="round"/><path d="M1204.50,723.30 L1208.20,734.70 L1220.19,734.70 L1210.49,741.75 L1214.20,753.15 L1204.50,746.10 L1194.80,753.15 L1198.51,741.75 L1188.81,734.70 L1200.80,734.70Z" fill="#f3c3c3" stroke="#f69c9c" stroke-width="2.6" stroke-linejoin="round"/>
<path d="M1780.40,366.40 L1784.10,377.80 L1796.09,377.80 L1786.39,384.85 L1790.10,396.25 L1780.40,389.20 L1770.70,396.25 L1774.41,384.85 L1764.71,377.80 L1776.70,377.80Z" fill="#000" stroke="#000" stroke-width="5.0" stroke-linejoin="round"/><path d="M1780.40,366.40 L1784.10,377.80 L1796.09,377.80 L1786.39,384.85 L1790.10,396.25 L1780.40,389.20 L1770.70,396.25 L1774.41,384.85 L1764.71,377.80 L1776.70,377.80Z" fill="#f3c3c3" stroke="#f69c9c" stroke-width="2.6" stroke-linejoin="round"/>
<path d="M1431.50,402.10 L1435.20,413.50 L1447.19,413.50 L1437.49,420.55 L1441.20,431.95 L1431.50,424.90 L1421.80,431.95 L1425.51,420.55 L1415.81,413.50 L1427.80,413.50Z" fill="#000" stroke="#000" stroke-width="5.0" stroke-linejoin="round"/><path d="M1431.50,402.10 L1435.20,413.50 L1447.19,413.50 L1437.49,420.55 L1441.20,431.95 L1431.50,424.90 L1421.80,431.95 L1425.51,420.55 L1415.81,413.50 L1427.80,413.50Z" fill="#c4a0d2" stroke="#93699f" stroke-width="2.6" stroke-linejoin="round"/>
<path d="M234.1,610.2 L237.7,610.2 L241.4,610.2 L245.0,610.2 L248.7,610.2 L252.3,610.2 L256.0,610.2 L259.6,610.2 L263.2,610.2 L266.9,610.2 L270.5,610.2 L274.2,610.2 L277.8,610.2 L281.5,610.2 L285.1,610.2 L288.7,610.2 L292.4,610.2 L296.0,610.2 L299.7,610.2 L303.3,610.2 L307.0,610.2 L310.6,610.2 L314.2,610.2 L317.9,610.2 L321.5,610.2 L325.2,610.2 L328.8,610.2 L332.5,610.2 L336.1,610.2 L339.7,610.2 L343.4,610.2 L347.0,610.2 L350.7,610.2 L354.3,610.2 L358.0,610.1 L361.6,610.1 L365.3,610.1 L368.9,610.1 L372.5,610.1 L376.2,610.1 L379.8,610.1 L383.5,610.1 L387.1,610.1 L390.8,610.1 L394.4,610.1 L398.0,610.1 L401.7,610.1 L405.3,610.1 L409.0,610.1 L412.6,610.1 L416.3,610.1 L419.9,610.1 L423.5,610.1 L427.2,610.1 L430.8,610.1 L434.5,610.1 L438.1,610.1 L441.8,610.1 L445.4,610.1 L449.0,610.1 L452.7,610.1 L456.3,610.1 L460.0,610.0 L463.6,610.0 L467.3,610.0 L470.9,610.0 L474.5,610.0 L478.2,610.0 L481.8,610.0 L485.5,610.0 L489.1,610.0 L492.8,610.0 L496.4,610.0 L500.0,610.0 L503.7,610.0 L507.3,610.0 L511.0,610.0 L514.6,610.0 L518.3,610.0 L521.9,610.0 L525.5,610.0 L529.2,610.0 L532.8,609.9 L536.5,609.9 L540.1,609.9 L543.8,609.9 L547.4,609.9 L551.0,609.9 L554.7,609.9 L558.3,609.9 L562.0,609.9 L565.6,609.9 L569.3,609.9 L572.9,609.8 L576.6,609.8 L580.2,609.8 L583.8,609.8 L587.5,609.8 L591.1,609.8 L594.8,609.8 L598.4,609.8 L602.1,609.8 L605.7,609.7 L609.3,609.7 L613.0,609.7 L616.6,609.7 L620.3,609.7 L623.9,609.7 L627.6,609.7 L631.2,609.6 L634.8,609.6 L638.5,609.6 L642.1,609.6 L645.8,609.6 L649.4,609.6 L653.1,609.5 L656.7,609.5 L660.3,609.5 L664.0,609.5 L667.6,609.5 L671.3,609.5 L674.9,609.5 L678.6,609.4 L682.2,609.4 L685.8,609.4 L689.5,609.4 L693.1,609.4 L696.8,609.3 L700.4,609.3 L704.1,609.3 L707.7,609.3 L711.3,609.3 L715.0,609.3 L718.6,609.2 L722.3,609.2 L725.9,609.2 L729.6,609.2 L733.2,609.2 L736.8,609.1 L740.5,609.1 L744.1,609.1 L747.8,609.1 L751.4,609.1 L755.1,609.0 L758.7,609.0 L762.3,609.0 L766.0,609.0 L769.6,609.0 L773.3,608.9 L776.9,608.9 L780.6,608.9 L784.2,608.9 L787.8,608.9 L791.5,608.8 L795.1,608.8 L798.8,608.8 L802.4,608.8 L806.1,608.8 L809.7,608.7 L813.4,608.7 L817.0,608.7 L820.6,608.7 L824.3,608.6 L827.9,608.6 L831.6,608.6 L835.2,608.6 L838.9,608.6 L842.5,608.5 L846.1,608.5 L849.8,608.5 L853.4,608.5 L857.1,608.5 L860.7,608.4 L864.4,608.4 L868.0,608.4 L871.6,608.4 L875.3,608.4 L878.9,608.3 L882.6,608.3 L886.2,608.3 L889.9,608.3 L893.5,608.2 L897.1,608.2 L900.8,608.2 L904.4,608.2 L908.1,608.2 L911.7,608.1 L915.4,608.1 L919.0,608.1 L922.6,608.1 L926.3,608.0 L929.9,608.0 L933.6,608.0 L937.2,608.0 L940.9,607.9 L944.5,607.9 L948.1,607.9 L951.8,607.8 L955.4,607.8 L959.1,607.8 L962.7,607.8 L966.4,607.7 L970.0,607.7 L973.6,607.7 L977.3,607.6 L980.9,607.6 L984.6,607.6 L988.2,607.5 L991.9,607.5 L995.5,607.4 L999.1,607.4 L1002.8,607.4 L1006.4,607.3 L1010.1,607.3 L1013.7,607.2 L1017.4,607.2 L1021.0,607.2 L1024.6,607.1 L1028.3,607.1 L1031.9,607.0 L1035.6,607.0 L1039.2,606.9 L1042.9,606.8 L1046.5,606.8 L1050.2,606.7 L1053.8,606.6 L1057.4,606.6 L1061.1,606.5 L1064.7,606.4 L1068.4,606.3 L1072.0,606.2 L1075.7,606.1 L1079.3,606.0 L1082.9,605.9 L1086.6,605.8 L1090.2,605.6 L1093.9,605.5 L1097.5,605.4 L1101.2,605.3 L1104.8,605.1 L1108.4,605.0 L1112.1,604.9 L1115.7,604.8 L1119.4,604.6 L1123.0,604.5 L1126.7,604.4 L1130.3,604.2 L1133.9,604.1 L1137.6,604.0 L1141.2,603.8 L1144.9,603.7 L1148.5,603.6 L1152.2,603.4 L1155.8,603.3 L1159.4,603.2 L1163.1,603.0 L1166.7,602.9 L1170.4,602.8 L1174.0,602.6 L1177.7,602.5 L1181.3,602.3 L1184.9,602.2 L1188.6,602.1 L1192.2,601.9 L1195.9,601.8 L1199.5,601.6 L1203.2,601.5 L1206.8,601.3 L1210.4,601.2 L1214.1,601.0 L1217.7,600.8 L1221.4,600.7 L1225.0,600.5 L1228.7,600.3 L1232.3,600.2 L1235.9,600.0 L1239.6,599.8 L1243.2,599.6 L1246.9,599.5 L1250.5,599.3 L1254.2,599.1 L1257.8,598.9 L1261.5,598.7 L1265.1,598.4 L1268.7,598.2 L1272.4,598.0 L1276.0,597.8 L1279.7,597.5 L1283.3,597.3 L1287.0,597.1 L1290.6,596.8 L1294.2,596.6 L1297.9,596.3 L1301.5,596.1 L1305.2,595.8 L1308.8,595.6 L1312.5,595.3 L1316.1,595.1 L1319.7,594.8 L1323.4,594.5 L1327.0,594.3 L1330.7,594.0 L1334.3,593.7 L1338.0,593.3 L1341.6,593.0 L1345.2,592.7 L1348.9,592.3 L1352.5,591.9 L1356.2,591.5 L1359.8,591.1 L1363.5,590.6 L1367.1,590.1 L1370.7,589.5 L1374.4,589.0 L1378.0,588.4 L1381.7,587.8 L1385.3,587.2 L1389.0,586.6 L1392.6,586.0 L1396.2,585.5 L1399.9,584.9 L1403.5,584.3 L1407.2,583.8 L1410.8,583.3 L1414.5,582.8 L1418.1,582.3 L1421.7,581.8 L1425.4,581.3 L1429.0,580.9 L1432.7,580.4 L1436.3,579.9 L1440.0,579.5 L1443.6,579.0 L1447.2,578.6 L1450.9,578.2 L1454.5,577.7 L1458.2,577.3 L1461.8,576.8 L1465.5,576.4 L1469.1,575.9 L1472.7,575.5 L1476.4,575.0 L1480.0,574.5 L1483.7,574.1 L1487.3,573.6 L1491.0,573.1 L1494.6,572.6 L1498.3,572.1 L1501.9,571.5 L1505.5,571.0 L1509.2,570.4 L1512.8,569.9 L1516.5,569.3 L1520.1,568.7 L1523.8,568.0 L1527.4,567.4 L1531.0,566.7 L1534.7,566.1 L1538.3,565.4 L1542.0,564.7 L1545.6,563.9 L1549.3,563.2 L1552.9,562.4 L1556.5,561.7 L1560.2,560.9 L1563.8,560.1 L1567.5,559.3 L1571.1,558.4 L1574.8,557.6 L1578.4,556.7 L1582.0,555.9 L1585.7,555.0 L1589.3,554.1 L1593.0,553.2 L1596.6,552.2 L1600.3,551.3 L1603.9,550.3 L1607.5,549.4 L1611.2,548.4 L1614.8,547.4 L1618.5,546.3 L1622.1,545.3 L1625.8,544.3 L1629.4,543.2 L1633.0,542.1 L1636.7,541.0 L1640.3,539.8 L1644.0,538.5 L1647.6,537.3 L1651.3,535.9 L1654.9,534.6 L1658.5,533.2 L1662.2,531.8 L1665.8,530.3 L1669.5,528.9 L1673.1,527.4 L1676.8,525.9 L1680.4,524.4 L1684.0,523.0 L1687.7,521.5 L1691.3,520.0 L1695.0,518.5 L1698.6,517.1 L1702.3,515.7 L1705.9,514.3 L1709.5,512.9 L1713.2,511.6 L1716.8,510.2 L1720.5,508.9 L1724.1,507.5 L1727.8,506.2 L1731.4,504.9 L1735.1,503.6 L1738.7,502.2 L1742.3,500.9 L1746.0,499.5 L1749.6,498.2 L1753.3,496.8 L1756.9,495.5 L1760.6,494.1 L1764.2,492.7 L1767.8,491.3 L1771.5,489.9 L1775.1,488.5 L1778.8,487.0 L1782.4,485.6 L1786.1,484.2 L1789.7,482.7 L1793.3,481.3 L1797.0,479.8 L1800.6,478.3 L1804.3,476.8 L1807.9,475.3 L1811.6,473.8 L1815.2,472.3 L1818.8,470.8 L1822.5,469.2 L1826.1,467.6 L1829.8,466.0 L1833.4,464.3 L1837.1,462.6 L1840.7,460.9 L1844.3,459.3 L1848.0,457.7 L1851.6,456.2 L1855.3,454.8 L1858.9,453.3 L1862.6,451.9 L1866.2,450.5 L1869.8,449.0 L1873.5,447.6 L1877.1,446.3 L1880.8,444.9 L1884.4,443.6 L1888.1,442.3 L1891.7,441.0 L1895.3,439.7 L1899.0,438.5 L1902.6,437.3 L1906.3,436.1 L1909.9,435.0 L1913.6,433.9 L1917.2,432.9 L1920.8,431.9 L1924.5,430.9 L1928.1,429.9 L1931.8,429.0 L1935.4,428.0 L1939.1,427.0 L1942.7,426.1 L1946.4,425.1 L1950.0,424.2 L1953.6,423.3 L1957.3,422.4 L1960.9,421.6 L1964.6,420.8 L1968.2,420.0 L1971.9,419.3 L1975.5,418.6 L1979.1,418.0 L1982.8,417.4 L1986.4,416.9 L1990.1,416.5 L1993.7,416.1 L1997.4,415.8 L2001.0,415.6 L2004.6,415.3 L2008.3,415.1 L2011.9,414.9 L2015.6,414.8 L2019.2,414.8 L2022.9,414.9 L2026.5,415.0 L2030.1,415.1 L2033.8,415.4 L2037.4,415.7 L2041.1,416.0 L2044.7,416.5 L2048.4,417.0 L2052.0,417.5" fill="none" stroke="#000" stroke-opacity="0.8" stroke-width="6" stroke-dasharray="38.4 9.6 6 9.6" stroke-dashoffset="0.00"/>
</g>
<line x1="234.1" y1="1112.0" x2="234.1" y2="1088.4" stroke="#000" stroke-width="5.6"/>
<line x1="234.1" y1="2.8" x2="234.1" y2="26.4" stroke="#000" stroke-width="5.6"/>
<line x1="383.7" y1="1112.0" x2="383.7" y2="1096.3" stroke="#000" stroke-width="3.9"/>
<line x1="383.7" y1="2.8" x2="383.7" y2="18.5" stroke="#000" stroke-width="3.9"/>
<line x1="471.1" y1="1112.0" x2="471.1" y2="1096.3" stroke="#000" stroke-width="3.9"/>
<line x1="471.1" y1="2.8" x2="471.1" y2="18.5" stroke="#000" stroke-width="3.9"/>
<line x1="533.2" y1="1112.0" x2="533.2" y2="1096.3" stroke="#000" stroke-width="3.9"/>
<line x1="533.2" y1="2.8" x2="533.2" y2="18.5" stroke="#000" stroke-width="3.9"/>
<line x1="581.3" y1="1112.0" x2="581.3" y2="1096.3" stroke="#000" stroke-width="3.9"/>
<line x1="581.3" y1="2.8" x2="581.3" y2="18.5" stroke="#000" stroke-width="3.9"/>
<line x1="620.7" y1="1112.0" x2="620.7" y2="1096.3" stroke="#000" stroke-width="3.9"/>
<line x1="620.7" y1="2.8" x2="620.7" y2="18.5" stroke="#000" stroke-width="3.9"/>
<line x1="653.9" y1="1112.0" x2="653.9" y2="1096.3" stroke="#000" stroke-width="3.9"/>
<line x1="653.9" y1="2.8" x2="653.9" y2="18.5" stroke="#000" stroke-width="3.9"/>
<line x1="682.8" y1="1112.0" x2="682.8" y2="1096.3" stroke="#000" stroke-width="3.9"/>
<line x1="682.8" y1="2.8" x2="682.8" y2="18.5" stroke="#000" stroke-width="3.9"/>
<line x1="708.2" y1="1112.0" x2="708.2" y2="1096.3" stroke="#000" stroke-width="3.9"/>
<line x1="708.2" y1="2.8" x2="708.2" y2="18.5" stroke="#000" stroke-width="3.9"/>
<line x1="730.9" y1="1112.0" x2="730.9" y2="1088.4" stroke="#000" stroke-width="5.6"/>
<line x1="730.9" y1="2.8" x2="730.9" y2="26.4" stroke="#000" stroke-width="5.6"/>
<line x1="880.5" y1="1112.0" x2="880.5" y2="1096.3" stroke="#000" stroke-width="3.9"/>
<line x1="880.5" y1="2.8" x2="880.5" y2="18.5" stroke="#000" stroke-width="3.9"/>
<line x1="967.9" y1="1112.0" x2="967.9" y2="1096.3" stroke="#000" stroke-width="3.9"/>
<line x1="967.9" y1="2.8" x2="967.9" y2="18.5" stroke="#000" stroke-width="3.9"/>
<line x1="1030.0" y1="1112.0" x2="1030.0" y2="1096.3" stroke="#000" stroke-width="3.9"/>
<line x1="1030.0" y1="2.8" x2="1030.0" y2="18.5" stroke="#000" stroke-width="3.9"/>
<line x1="1078.1" y1="1112.0" x2="1078.1" y2="1096.3" stroke="#000" stroke-width="3.9"/>
<line x1="1078.1" y1="2.8" x2="1078.1" y2="18.5" stroke="#000" stroke-width="3.9"/>
<line x1="1117.5" y1="1112.0" x2="1117.5" y2="1096.3" stroke="#000" stroke-width="3.9"/>
<line x1="1117.5" y1="2.8" x2="1117.5" y2="18.5" stroke="#000" stroke-width="3.9"/>
<line x1="1150.7" y1="1112.0" x2="1150.7" y2="1096.3" stroke="#000" stroke-width="3.9"/>
<line x1="1150.7" y1="2.8" x2="1150.7" y2="18.5" stroke="#000" stroke-width="3.9"/>
<line x1="1179.6" y1="1112.0" x2="1179.6" y2="1096.3" stroke="#000" stroke-width="3.9"/>
<line x1="1179.6" y1="2.8" x2="1179.6" y2="18.5" stroke="#000" stroke-width="3.9"/>
<line x1="1205.0" y1="1112.0" x2="1205.0" y2="1096.3" stroke="#000" stroke-width="3.9"/>
<line x1="1205.0" y1="2.8" x2="1205.0" y2="18.5" stroke="#000" stroke-width="3.9"/>
<line x1="1227.7" y1="1112.0" x2="1227.7" y2="1088.4" stroke="#000" stroke-width="5.6"/>
<line x1="1227.7" y1="2.8" x2="1227.7" y2="26.4" stroke="#000" stroke-width="5.6"/>
<line x1="1377.3" y1="1112.0" x2="1377.3" y2="1096.3" stroke="#000" stroke-width="3.9"/>
<line x1="1377.3" y1="2.8" x2="1377.3" y2="18.5" stroke="#000" stroke-width="3.9"/>
<line x1="1464.7" y1="1112.0" x2="1464.7" y2="1096.3" stroke="#000" stroke-width="3.9"/>
<line x1="1464.7" y1="2.8" x2="1464.7" y2="18.5" stroke="#000" stroke-width="3.9"/>
<line x1="1526.8" y1="1112.0" x2="1526.8" y2="1096.3" stroke="#000" stroke-width="3.9"/>
<line x1="1526.8" y1="2.8" x2="1526.8" y2="18.5" stroke="#000" stroke-width="3.9"/>
<line x1="1574.9" y1="1112.0" x2="1574.9" y2="1096.3" stroke="#000" stroke-width="3.9"/>
<line x1="1574.9" y1="2.8" x2="1574.9" y2="18.5" stroke="#000" stroke-width="3.9"/>
<line x1="1614.3" y1="1112.0" x2="1614.3" y2="1096.3" stroke="#000" stroke-width="3.9"/>
<line x1="1614.3" y1="2.8" x2="1614.3" y2="18.5" stroke="#000" stroke-width="3.9"/>
<line x1="1647.5" y1="1112.0" x2="1647.5" y2="1096.3" stroke="#000" stroke-width="3.9"/>
<line x1="1647.5" y1="2.8" x2="1647.5" y2="18.5" stroke="#000" stroke-width="3.9"/>
<line x1="1676.4" y1="1112.0" x2="1676.4" y2="1096.3" stroke="#000" stroke-width="3.9"/>
<line x1="1676.4" y1="2.8" x2="1676.4" y2="18.5" stroke="#000" stroke-width="3.9"/>
<line x1="1701.8" y1="1112.0" x2="1701.8" y2="1096.3" stroke="#000" stroke-width="3.9"/>
<line x1="1701.8" y1="2.8" x2="1701.8" y2="18.5" stroke="#000" stroke-width="3.9"/>
<line x1="1724.5" y1="1112.0" x2="1724.5" y2="1088.4" stroke="#000" stroke-width="5.6"/>
<line x1="1724.5" y1="2.8" x2="1724.5" y2="26.4" stroke="#000" stroke-width="5.6"/>
<line x1="1874.1" y1="1112.0" x2="1874.1" y2="1096.3" stroke="#000" stroke-width="3.9"/>
<line x1="1874.1" y1="2.8" x2="1874.1" y2="18.5" stroke="#000" stroke-width="3.9"/>
<line x1="1961.5" y1="1112.0" x2="1961.5" y2="1096.3" stroke="#000" stroke-width="3.9"/>
<line x1="1961.5" y1="2.8" x2="1961.5" y2="18.5" stroke="#000" stroke-width="3.9"/>
<line x1="2023.6" y1="1112.0" x2="2023.6" y2="1096.3" stroke="#000" stroke-width="3.9"/>
<line x1="2023.6" y1="2.8" x2="2023.6" y2="18.5" stroke="#000" stroke-width="3.9"/>
<line x1="234.1" y1="1098.8" x2="249.8" y2="1098.8" stroke="#000" stroke-width="3.9"/>
<line x1="2049.0" y1="1098.8" x2="2033.3" y2="1098.8" stroke="#000" stroke-width="3.9"/>
<line x1="234.1" y1="1086.9" x2="249.8" y2="1086.9" stroke="#000" stroke-width="3.9"/>
<line x1="2049.0" y1="1086.9" x2="2033.3" y2="1086.9" stroke="#000" stroke-width="3.9"/>
<line x1="234.1" y1="1076.6" x2="249.8" y2="1076.6" stroke="#000" stroke-width="3.9"/>
<line x1="2049.0" y1="1076.6" x2="2033.3" y2="1076.6" stroke="#000" stroke-width="3.9"/>
<line x1="234.1" y1="1067.5" x2="249.8" y2="1067.5" stroke="#000" stroke-width="3.9"/>
<line x1="2049.0" y1="1067.5" x2="2033.3" y2="1067.5" stroke="#000" stroke-width="3.9"/>
<line x1="234.1" y1="1059.4" x2="257.7" y2="1059.4" stroke="#000" stroke-width="5.6"/>
<line x1="2049.0" y1="1059.4" x2="2025.4" y2="1059.4" stroke="#000" stroke-width="5.6"/>
<line x1="234.1" y1="1006.0" x2="249.8" y2="1006.0" stroke="#000" stroke-width="3.9"/>
<line x1="2049.0" y1="1006.0" x2="2033.3" y2="1006.0" stroke="#000" stroke-width="3.9"/>
<line x1="234.1" y1="974.7" x2="249.8" y2="974.7" stroke="#000" stroke-width="3.9"/>
<line x1="2049.0" y1="974.7" x2="2033.3" y2="974.7" stroke="#000" stroke-width="3.9"/>
<line x1="234.1" y1="952.5" x2="249.8" y2="952.5" stroke="#000" stroke-width="3.9"/>
<line x1="2049.0" y1="952.5" x2="2033.3" y2="952.5" stroke="#000" stroke-width="3.9"/>
<line x1="234.1" y1="935.3" x2="249.8" y2="935.3" stroke="#000" stroke-width="3.9"/>
<line x1="2049.0" y1="935.3" x2="2033.3" y2="935.3" stroke="#000" stroke-width="3.9"/>
<line x1="234.1" y1="921.3" x2="249.8" y2="921.3" stroke="#000" stroke-width="3.9"/>
<line x1="2049.0" y1="921.3" x2="2033.3" y2="921.3" stroke="#000" stroke-width="3.9"/>
<line x1="234.1" y1="909.4" x2="249.8" y2="909.4" stroke="#000" stroke-width="3.9"/>
<line x1="2049.0" y1="909.4" x2="2033.3" y2="909.4" stroke="#000" stroke-width="3.9"/>
<line x1="234.1" y1="899.1" x2="249.8" y2="899.1" stroke="#000" stroke-width="3.9"/>
<line x1="2049.0" y1="899.1" x2="2033.3" y2="899.1" stroke="#000" stroke-width="3.9"/>
<line x1="234.1" y1="890.0" x2="249.8" y2="890.0" stroke="#000" stroke-width="3.9"/>
<line x1="2049.0" y1="890.0" x2="2033.3" y2="890.0" stroke="#000" stroke-width="3.9"/>
<line x1="234.1" y1="881.9" x2="257.7" y2="881.9" stroke="#000" stroke-width="5.6"/>
<line x1="2049.0" y1="881.9" x2="2025.4" y2="881.9" stroke="#000" stroke-width="5.6"/>
<line x1="234.1" y1="828.5" x2="249.8" y2="828.5" stroke="#000" stroke-width="3.9"/>
<line x1="2049.0" y1="828.5" x2="2033.3" y2="828.5" stroke="#000" stroke-width="3.9"/>
<line x1="234.1" y1="797.2" x2="249.8" y2="797.2" stroke="#000" stroke-width="3.9"/>
<line x1="2049.0" y1="797.2" x2="2033.3" y2="797.2" stroke="#000" stroke-width="3.9"/>
<line x1="234.1" y1="775.0" x2="249.8" y2="775.0" stroke="#000" stroke-width="3.9"/>
<line x1="2049.0" y1="775.0" x2="2033.3" y2="775.0" stroke="#000" stroke-width="3.9"/>
<line x1="234.1" y1="757.8" x2="249.8" y2="757.8" stroke="#000" stroke-width="3.9"/>
<line x1="2049.0" y1="757.8" x2="2033.3" y2="757.8" stroke="#000" stroke-width="3.9"/>
<line x1="234.1" y1="743.8" x2="249.8" y2="743.8" stroke="#000" stroke-width="3.9"/>
<line x1="2049.0" y1="743.8" x2="2033.3" y2="743.8" stroke="#000" stroke-width="3.9"/>
<line x1="234.1" y1="731.9" x2="249.8" y2="731.9" stroke="#000" stroke-width="3.9"/>
<line x1="2049.0" y1="731.9" x2="2033.3" y2="731.9" stroke="#000" stroke-width="3.9"/>
<line x1="234.1" y1="721.6" x2="249.8" y2="721.6" stroke="#000" stroke-width="3.9"/>
<line x1="2049.0" y1="721.6" x2="2033.3" y2="721.6" stroke="#000" stroke-width="3.9"/>
<line x1="234.1" y1="712.5" x2="249.8" y2="712.5" stroke="#000" stroke-width="3.9"/>
<line x1="2049.0" y1="712.5" x2="2033.3" y2="712.5" stroke="#000" stroke-width="3.9"/>
<line x1="234.1" y1="704.4" x2="257.7" y2="704.4" stroke="#000" stroke-width="5.6"/>
<line x1="2049.0" y1="704.4" x2="2025.4" y2="704.4" stroke="#000" stroke-width="5.6"/>
<line x1="234.1" y1="651.0" x2="249.8" y2="651.0" stroke="#000" stroke-width="3.9"/>
<line x1="2049.0" y1="651.0" x2="2033.3" y2="651.0" stroke="#000" stroke-width="3.9"/>
<line x1="234.1" y1="619.7" x2="249.8" y2="619.7" stroke="#000" stroke-width="3.9"/>
<line x1="2049.0" y1="619.7" x2="2033.3" y2="619.7" stroke="#000" stroke-width="3.9"/>
<line x1="234.1" y1="597.5" x2="249.8" y2="597.5" stroke="#000" stroke-width="3.9"/>
<line x1="2049.0" y1="597.5" x2="2033.3" y2="597.5" stroke="#000" stroke-width="3.9"/>
<line x1="234.1" y1="580.3" x2="249.8" y2="580.3" stroke="#000" stroke-width="3.9"/>
<line x1="2049.0" y1="580.3" x2="2033.3" y2="580.3" stroke="#000" stroke-width="3.9"/>
<line x1="234.1" y1="566.3" x2="249.8" y2="566.3" stroke="#000" stroke-width="3.9"/>
<line x1="2049.0" y1="566.3" x2="2033.3" y2="566.3" stroke="#000" stroke-width="3.9"/>
<line x1="234.1" y1="554.4" x2="249.8" y2="554.4" stroke="#000" stroke-width="3.9"/>
<line x1="2049.0" y1="554.4" x2="2033.3" y2="554.4" stroke="#000" stroke-width="3.9"/>
<line x1="234.1" y1="544.1" x2="249.8" y2="544.1" stroke="#000" stroke-width="3.9"/>
<line x1="2049.0" y1="544.1" x2="2033.3" y2="544.1" stroke="#000" stroke-width="3.9"/>
<line x1="234.1" y1="535.0" x2="249.8" y2="535.0" stroke="#000" stroke-width="3.9"/>
<line x1="2049.0" y1="535.0" x2="2033.3" y2="535.0" stroke="#000" stroke-width="3.9"/>
<line x1="234.1" y1="526.9" x2="257.7" y2="526.9" stroke="#000" stroke-width="5.6"/>
<line x1="2049.0" y1="526.9" x2="2025.4" y2="526.9" stroke="#000" stroke-width="5.6"/>
<line x1="234.1" y1="473.5" x2="249.8" y2="473.5" stroke="#000" stroke-width="3.9"/>
<line x1="2049.0" y1="473.5" x2="2033.3" y2="473.5" stroke="#000" stroke-width="3.9"/>
<line x1="234.1" y1="442.2" x2="249.8" y2="442.2" stroke="#000" stroke-width="3.9"/>
<line x1="2049.0" y1="442.2" x2="2033.3" y2="442.2" stroke="#000" stroke-width="3.9"/>
<line x1="234.1" y1="420.0" x2="249.8" y2="420.0" stroke="#000" stroke-width="3.9"/>
<line x1="2049.0" y1="420.0" x2="2033.3" y2="420.0" stroke="#000" stroke-width="3.9"/>
<line x1="234.1" y1="402.8" x2="249.8" y2="402.8" stroke="#000" stroke-width="3.9"/>
<line x1="2049.0" y1="402.8" x2="2033.3" y2="402.8" stroke="#000" stroke-width="3.9"/>
<line x1="234.1" y1="388.8" x2="249.8" y2="388.8" stroke="#000" stroke-width="3.9"/>
<line x1="2049.0" y1="388.8" x2="2033.3" y2="388.8" stroke="#000" stroke-width="3.9"/>
<line x1="234.1" y1="376.9" x2="249.8" y2="376.9" stroke="#000" stroke-width="3.9"/>
<line x1="2049.0" y1="376.9" x2="2033.3" y2="376.9" stroke="#000" stroke-width="3.9"/>
<line x1="234.1" y1="366.6" x2="249.8" y2="366.6" stroke="#000" stroke-width="3.9"/>
<line x1="2049.0" y1="366.6" x2="2033.3" y2="366.6" stroke="#000" stroke-width="3.9"/>
<line x1="234.1" y1="357.5" x2="249.8" y2="357.5" stroke="#000" stroke-width="3.9"/>
<line x1="2049.0" y1="357.5" x2="2033.3" y2="357.5" stroke="#000" stroke-width="3.9"/>
<line x1="234.1" y1="349.4" x2="257.7" y2="349.4" stroke="#000" stroke-width="5.6"/>
<line x1="2049.0" y1="349.4" x2="2025.4" y2="349.4" stroke="#000" stroke-width="5.6"/>
<line x1="234.1" y1="296.0" x2="249.8" y2="296.0" stroke="#000" stroke-width="3.9"/>
<line x1="2049.0" y1="296.0" x2="2033.3" y2="296.0" stroke="#000" stroke-width="3.9"/>
<line x1="234.1" y1="264.7" x2="249.8" y2="264.7" stroke="#000" stroke-width="3.9"/>
<line x1="2049.0" y1="264.7" x2="2033.3" y2="264.7" stroke="#000" stroke-width="3.9"/>
<line x1="234.1" y1="242.5" x2="249.8" y2="242.5" stroke="#000" stroke-width="3.9"/>
<line x1="2049.0" y1="242.5" x2="2033.3" y2="242.5" stroke="#000" stroke-width="3.9"/>
<line x1="234.1" y1="225.3" x2="249.8" y2="225.3" stroke="#000" stroke-width="3.9"/>
<line x1="2049.0" y1="225.3" x2="2033.3" y2="225.3" stroke="#000" stroke-width="3.9"/>
<line x1="234.1" y1="211.3" x2="249.8" y2="211.3" stroke="#000" stroke-width="3.9"/>
<line x1="2049.0" y1="211.3" x2="2033.3" y2="211.3" stroke="#000" stroke-width="3.9"/>
<line x1="234.1" y1="199.4" x2="249.8" y2="199.4" stroke="#000" stroke-width="3.9"/>
<line x1="2049.0" y1="199.4" x2="2033.3" y2="199.4" stroke="#000" stroke-width="3.9"/>
<line x1="234.1" y1="189.1" x2="249.8" y2="189.1" stroke="#000" stroke-width="3.9"/>
<line x1="2049.0" y1="189.1" x2="2033.3" y2="189.1" stroke="#000" stroke-width="3.9"/>
<line x1="234.1" y1="180.0" x2="249.8" y2="180.0" stroke="#000" stroke-width="3.9"/>
<line x1="2049.0" y1="180.0" x2="2033.3" y2="180.0" stroke="#000" stroke-width="3.9"/>
<line x1="234.1" y1="171.9" x2="257.7" y2="171.9" stroke="#000" stroke-width="5.6"/>
<line x1="2049.0" y1="171.9" x2="2025.4" y2="171.9" stroke="#000" stroke-width="5.6"/>
<line x1="234.1" y1="118.5" x2="249.8" y2="118.5" stroke="#000" stroke-width="3.9"/>
<line x1="2049.0" y1="118.5" x2="2033.3" y2="118.5" stroke="#000" stroke-width="3.9"/>
<line x1="234.1" y1="87.2" x2="249.8" y2="87.2" stroke="#000" stroke-width="3.9"/>
<line x1="2049.0" y1="87.2" x2="2033.3" y2="87.2" stroke="#000" stroke-width="3.9"/>
<line x1="234.1" y1="65.0" x2="249.8" y2="65.0" stroke="#000" stroke-width="3.9"/>
<line x1="2049.0" y1="65.0" x2="2033.3" y2="65.0" stroke="#000" stroke-width="3.9"/>
<line x1="234.1" y1="47.8" x2="249.8" y2="47.8" stroke="#000" stroke-width="3.9"/>
<line x1="2049.0" y1="47.8" x2="2033.3" y2="47.8" stroke="#000" stroke-width="3.9"/>
<line x1="234.1" y1="33.8" x2="249.8" y2="33.8" stroke="#000" stroke-width="3.9"/>
<line x1="2049.0" y1="33.8" x2="2033.3" y2="33.8" stroke="#000" stroke-width="3.9"/>
<line x1="234.1" y1="21.9" x2="249.8" y2="21.9" stroke="#000" stroke-width="3.9"/>
<line x1="2049.0" y1="21.9" x2="2033.3" y2="21.9" stroke="#000" stroke-width="3.9"/>
<line x1="234.1" y1="11.6" x2="249.8" y2="11.6" stroke="#000" stroke-width="3.9"/>
<line x1="2049.0" y1="11.6" x2="2033.3" y2="11.6" stroke="#000" stroke-width="3.9"/>
<line x1="234.1" y1="2.5" x2="249.8" y2="2.5" stroke="#000" stroke-width="3.9"/>
<line x1="2049.0" y1="2.5" x2="2033.3" y2="2.5" stroke="#000" stroke-width="3.9"/>
<rect x="234.1" y="2.8" width="1814.9" height="1109.2" fill="none" stroke="#000" stroke-width="5.6"/>
<text x="234.1" y="1172" text-anchor="middle" style="font-family:'DejaVu Serif','Liberation Serif',serif;font-size:61.1px">0.001</text>
<text x="730.9" y="1172" text-anchor="middle" style="font-family:'DejaVu Serif','Liberation Serif',serif;font-size:61.1px">0.01</text>
<text x="1227.7" y="1172" text-anchor="middle" style="font-family:'DejaVu Serif','Liberation Serif',serif;font-size:61.1px">0.1</text>
<text x="1724.5" y="1172" text-anchor="middle" style="font-family:'DejaVu Serif','Liberation Serif',serif;font-size:61.1px">1.0</text>
<text x="219.2" y="1080.5" text-anchor="end" style="font-family:'DejaVu Serif','Liberation Serif',serif;font-size:61.1px">10<tspan dy="-21.8" style="font-size:42.8px">41</tspan></text>
<text x="219.2" y="903.0" text-anchor="end" style="font-family:'DejaVu Serif','Liberation Serif',serif;font-size:61.1px">10<tspan dy="-21.8" style="font-size:42.8px">42</tspan></text>
<text x="219.2" y="725.5" text-anchor="end" style="font-family:'DejaVu Serif','Liberation Serif',serif;font-size:61.1px">10<tspan dy="-21.8" style="font-size:42.8px">43</tspan></text>
<text x="219.2" y="548.0" text-anchor="end" style="font-family:'DejaVu Serif','Liberation Serif',serif;font-size:61.1px">10<tspan dy="-21.8" style="font-size:42.8px">44</tspan></text>
<text x="219.2" y="370.5" text-anchor="end" style="font-family:'DejaVu Serif','Liberation Serif',serif;font-size:61.1px">10<tspan dy="-21.8" style="font-size:42.8px">45</tspan></text>
<text x="219.2" y="193.0" text-anchor="end" style="font-family:'DejaVu Serif','Liberation Serif',serif;font-size:61.1px">10<tspan dy="-21.8" style="font-size:42.8px">46</tspan></text>
<text x="1141.5" y="1246" text-anchor="middle" style="font-family:'DejaVu Serif','Liberation Serif',serif;font-size:61.1px">Redshift (z)</text>
<g transform="translate(53.9,839.9) rotate(-90)"><text x="0" y="0" style="font-family:'DejaVu Serif','Liberation Serif',serif;font-size:61.1px">L<tspan dy="9.5" style="font-family:'DejaVu Sans','Liberation Sans',sans-serif;font-size:42.8px">10<tspan dx="7.6">−</tspan><tspan dx="7.6">40</tspan><tspan dx="-2.1" style="font-style:italic">keV</tspan></tspan><tspan dy="-9.5"> [erg</tspan><tspan dx="-2"> s</tspan><tspan dy="-23.3" style="font-family:'DejaVu Sans','Liberation Sans',sans-serif;font-size:42.8px">−1</tspan><tspan dy="23.3">]</tspan></text></g>
<text x="320.7" y="671.8" style="font-family:'DejaVu Serif','Liberation Serif',serif;font-style:italic;font-size:47.2px">L<tspan dx="8.7" dy="-18" style="font-size:33px">*</tspan><tspan dx="8" dy="18">(z)</tspan></text>
<text x="343.8" y="85.6" style="font-family:'DejaVu Sans','Liberation Sans',sans-serif;font-size:44.4px"><tspan style="font-style:italic">Swift</tspan>-BAT BASS DR2 (Koss+2022)</text>
<text x="343.8" y="152.6" style="font-family:'DejaVu Sans','Liberation Sans',sans-serif;font-size:44.4px">NSS80 NL</text>
<text x="343.8" y="217.1" style="font-family:'DejaVu Sans','Liberation Sans',sans-serif;font-size:44.4px">NSS80 BL</text>
<text x="343.8" y="281.6" style="font-family:'DejaVu Sans','Liberation Sans',sans-serif;font-size:44.4px">NSS80 unclassified</text>
<text x="343.8" y="346.1" style="font-family:'DejaVu Sans','Liberation Sans',sans-serif;font-size:44.4px">NSS80 Gxy</text>
<text x="343.8" y="410.6" style="font-family:'DejaVu Sans','Liberation Sans',sans-serif;font-size:44.4px">NSS80 AGN/Gxy Pair</text>
<text x="343.8" y="475.1" style="font-family:'DejaVu Sans','Liberation Sans',sans-serif;font-size:44.4px">NSS80 Dual AGN</text>
<path d="M290.1,58.2h11.8v8.1h8v11.8h-8v8.1h-11.8v-8.1h-8v-11.8h8z" fill="#778899" fill-opacity="0.38"/>
<circle cx="295.9" cy="137" r="10" fill="#45b3aa" stroke="#0f8783" stroke-width="3.9"/>
<circle cx="295.9" cy="201.9" r="10" fill="#5f8baf" stroke="#0b4372" stroke-width="3.9"/>
<circle cx="295.6" cy="266" r="10.1" fill="#f2c3c5" stroke="#fb9494" stroke-width="4"/>
<path d="M288.45,316.50 L295.60,323.65 L302.75,316.50 L309.90,323.65 L302.75,330.80 L309.90,337.95 L302.75,345.10 L295.60,337.95 L288.45,345.10 L281.30,337.95 L288.45,330.80 L281.30,323.65Z" fill="#f2c1c4" stroke="#fa9090" stroke-width="4.4"/>
<path d="M295.90,378.60 L299.67,390.21 L311.88,390.21 L302.00,397.38 L305.77,408.99 L295.90,401.82 L286.03,408.99 L289.80,397.38 L279.92,390.21 L292.13,390.21Z" fill="#f2c1c4" stroke="#fa9090" stroke-width="4" stroke-linejoin="round"/>
<path d="M295.90,443.20 L299.67,454.81 L311.88,454.81 L302.00,461.98 L305.77,473.59 L295.90,466.42 L286.03,473.59 L289.80,461.98 L279.92,454.81 L292.13,454.81Z" fill="#c39fd0" stroke="#8c6399" stroke-width="4" stroke-linejoin="round"/>
</svg></body></html>
